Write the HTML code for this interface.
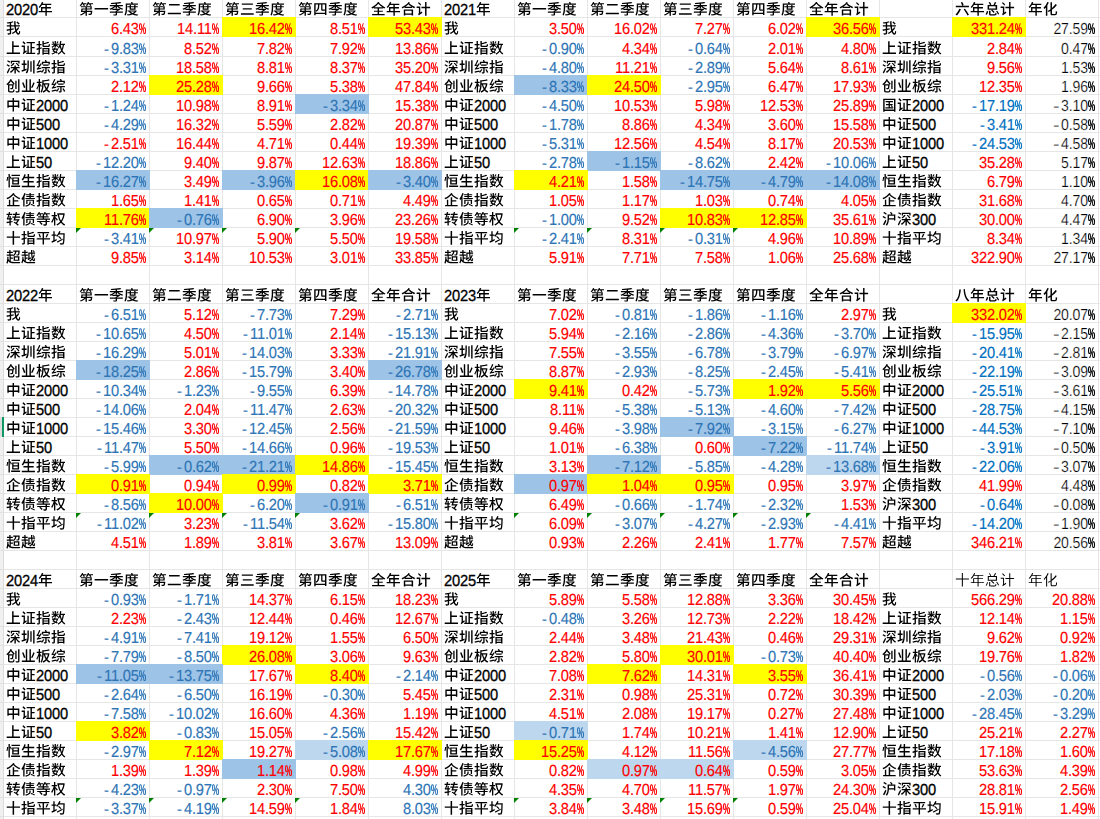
<!DOCTYPE html>
<html lang="zh"><head><meta charset="utf-8"><title>季度收益对比</title>
<style>
html,body{margin:0;padding:0;background:#fff}
body{width:1100px;height:819px;font-family:"Liberation Sans",sans-serif;color:#000}
#sheet{position:relative;width:1100px;height:819px;overflow:hidden;background:#fff}
table{position:absolute;left:0;top:-1px;width:1172px;border-collapse:separate;border-spacing:0;table-layout:fixed}
col{width:73px}col.h{width:4px}
td{box-sizing:border-box;height:19px;padding:0;border-right:1px solid #e6e6e6;border-bottom:1px solid #e6e6e6;font-size:14.67px;line-height:18px;white-space:nowrap;vertical-align:top;overflow:visible}
tr.x td{height:20px}
.d,.c,td b,td i{position:relative;top:2px}
tr.x .d,tr.x .c,tr.x b,tr.x i{top:3px}
th{padding:0;background:#f0f0f0;border-right:1px solid #dcdcdc;border-bottom:1px solid #e0e0e0}
td.l{padding-left:2.0px;text-align:left}
td.n{padding-right:3.17px;text-align:right;color:#ff0000}
td.b{color:#2e75b6}td.B{color:#0070c0}td.k{color:#000}
td.Y,td.L,td.P{position:relative;z-index:1}
td.Y{background:#ffff00;border-color:#ffff00;box-shadow:-1px -1px 0 0 #ffff00,0 -1px 0 0 #ffff00,-1px 0 0 0 #ffff00}
td.L{background:#9dc3e6;border-color:#9dc3e6;box-shadow:-1px -1px 0 0 #9dc3e6,0 -1px 0 0 #9dc3e6,-1px 0 0 0 #9dc3e6}
td.P{background:#bdd7ee;border-color:#bdd7ee;box-shadow:-1px -1px 0 0 #bdd7ee,0 -1px 0 0 #bdd7ee,-1px 0 0 0 #bdd7ee}
td.T{position:relative}
td.T::before{content:"";position:absolute;left:-1px;top:0;width:0;height:0;border-top:5.5px solid #008000;border-right:5.5px solid transparent;z-index:2}
/* Liberation digits: integer advances + hinted-height emulation */
.d{display:inline-block;line-height:0;text-rendering:geometricPrecision;letter-spacing:-0.157px;transform:scaleY(1.09);transform-origin:0 5px;-webkit-text-stroke:0.15px currentColor}
/* glyphs not available in Liberation are drawn from outlines; the text stays in the DOM */
.c,td b{font-size:0;line-height:0;font-weight:normal}
td.l .d{-webkit-text-stroke:.3px currentColor}
td.k .d{transform:scale(0.96,1.09);transform-origin:100% 5px;-webkit-text-stroke:0.2px #fff}
td.k i{transform:scaleX(1.35);transform-origin:0 0;-webkit-text-stroke:0.2px #fff}
td i{display:inline-block;width:7px;line-height:0;font-style:normal;text-align:left;text-rendering:geometricPrecision;-webkit-text-stroke:0.15px currentColor}
.c::after,td b::after{content:"";display:inline-block;height:16.5px;vertical-align:-3.0px;background:currentColor}
.c::after{width:15px}
td b::after{width:7.4px;margin-right:-0.4px}
#sel{position:absolute;left:2px;top:417px;width:2px;height:20px;background:#109864;z-index:3}
#selbg{position:absolute;left:0;top:418px;width:2px;height:18px;background:#dcdcdc;z-index:3}
.u4e00::after{clip-path:path("M0.62 6.42L0.62 7.94L14.11 7.94L14.11 6.42Z")}
.u4e09::after{clip-path:path("M1.78 1.93L1.78 3.35L12.91 3.35L12.91 1.93ZM2.76 6.69L2.76 8.1L11.75 8.1L11.75 6.69ZM0.94 11.74L0.94 13.15L13.7 13.15L13.7 11.74Z")}
.u4e0a::after{clip-path:path("M6.12 0.72L6.12 12.03L0.7 12.03L0.7 13.43L13.98 13.43L13.98 12.03L7.6 12.03L7.6 6.5L12.97 6.5L12.97 5.11L7.6 5.11L7.6 0.72Z")}
.u4e1a::after{clip-path:path("M12.4 3.8C11.85 5.51 10.84 7.66 10.06 9.03L11.21 9.61C12 8.22 12.97 6.17 13.66 4.41ZM1.09 4.14C1.82 5.86 2.66 8.16 2.99 9.51L4.37 9C3.99 7.66 3.11 5.45 2.36 3.76ZM8.46 0.69L8.46 12.02L6.22 12.02L6.22 0.69L4.8 0.69L4.8 12.02L0.82 12.02L0.82 13.41L13.88 13.41L13.88 12.02L9.89 12.02L9.89 0.69Z")}
.u4e2d::after{clip-path:path("M6.57 0.52L6.57 3.1L1.36 3.1L1.36 10.29L2.74 10.29L2.74 9.41L6.57 9.41L6.57 14.12L8.02 14.12L8.02 9.41L11.87 9.41L11.87 10.22L13.31 10.22L13.31 3.1L8.02 3.1L8.02 0.52ZM2.74 8.04L2.74 4.46L6.57 4.46L6.57 8.04ZM11.87 8.04L8.02 8.04L8.02 4.46L11.87 4.46Z")}
.u4e8c::after{clip-path:path("M2.05 2.59L2.05 4.1L12.65 4.1L12.65 2.59ZM0.82 11.2L0.82 12.78L13.88 12.78L13.88 11.2Z")}
.u4f01::after{clip-path:path("M2.89 7.15L2.89 12.46L1.13 12.46L1.13 13.72L13.66 13.72L13.66 12.46L8.17 12.46L8.17 9.1L12.31 9.1L12.31 7.85L8.17 7.85L8.17 4.63L6.72 4.63L6.72 12.46L4.24 12.46L4.24 7.15ZM7.22 0.39C5.75 2.62 3.07 4.51 0.4 5.58C0.75 5.9 1.14 6.39 1.35 6.75C3.56 5.74 5.72 4.23 7.35 2.4C9.32 4.58 11.3 5.76 13.45 6.75C13.63 6.34 14.01 5.86 14.35 5.57C12.13 4.68 10.02 3.54 8.14 1.44L8.46 0.99Z")}
.u503a::after{clip-path:path("M8.39 8.95L8.39 10.1C8.39 11.01 8.1 12.34 4.12 13.19C4.43 13.43 4.8 13.87 4.96 14.15C9.14 13.06 9.67 11.37 9.67 10.14L9.67 8.95ZM9.51 12.33C10.78 12.78 12.47 13.52 13.29 14.04L14 13.05C13.11 12.53 11.41 11.84 10.18 11.45ZM5.24 7.22L5.24 11.39L6.5 11.39L6.5 8.16L11.74 8.16L11.74 11.39L13.06 11.39L13.06 7.22ZM8.48 0.52L8.48 1.75L4.87 1.75L4.87 2.79L8.48 2.79L8.48 3.6L5.33 3.6L5.33 4.57L8.48 4.57L8.48 5.46L4.49 5.46L4.49 6.47L13.86 6.47L13.86 5.46L9.77 5.46L9.77 4.57L12.84 4.57L12.84 3.6L9.77 3.6L9.77 2.79L13.22 2.79L13.22 1.75L9.77 1.75L9.77 0.52ZM3.34 0.58C2.7 2.72 1.63 4.86 0.44 6.28C0.69 6.61 1.09 7.37 1.23 7.69C1.57 7.27 1.91 6.8 2.23 6.27L2.23 14.12L3.55 14.12L3.55 3.79C3.98 2.87 4.34 1.91 4.65 0.96Z")}
.u5168::after{clip-path:path("M7.14 0.36C5.66 2.68 2.99 4.73 0.31 5.89C0.67 6.2 1.07 6.68 1.28 7.03C1.82 6.77 2.35 6.47 2.88 6.15L2.88 7.12L6.6 7.12L6.6 9.14L3.01 9.14L3.01 10.36L6.6 10.36L6.6 12.5L1.11 12.5L1.11 13.75L13.64 13.75L13.64 12.5L8.07 12.5L8.07 10.36L11.82 10.36L11.82 9.14L8.07 9.14L8.07 7.12L11.88 7.12L11.88 6.17C12.4 6.49 12.91 6.8 13.45 7.11C13.64 6.69 14.05 6.21 14.39 5.92C12.01 4.76 9.9 3.34 8.11 1.33L8.38 0.94ZM3.3 5.87C4.8 4.89 6.19 3.69 7.33 2.34C8.63 3.78 9.96 4.89 11.44 5.87Z")}
.u516b::after{clip-path:path("M4.3 1.91C4.03 5.93 3.39 10.55 0.41 13.02C0.72 13.27 1.2 13.78 1.42 14.09C4.64 11.37 5.43 6.43 5.82 2.03ZM9.9 1.56L8.54 1.66C8.63 2.78 8.93 10.42 13.11 14.04C13.39 13.69 13.83 13.34 14.33 13.06C10.24 9.69 9.95 2.51 9.9 1.56Z")}
.u516d::after{clip-path:path("M0.78 4.32L0.78 5.76L13.94 5.76L13.94 4.32ZM4.4 7.27C3.46 9.36 1.97 11.65 0.57 13.08C0.97 13.31 1.66 13.77 1.98 14.03C3.3 12.46 4.87 10.01 5.96 7.75ZM8.66 7.78C9.98 9.75 11.72 12.39 12.5 13.94L13.97 13.15C13.09 11.59 11.28 9.03 9.98 7.15ZM5.82 1.05C6.31 2.03 6.92 3.36 7.17 4.14L8.71 3.56C8.41 2.79 7.76 1.52 7.28 0.56Z")}
.u521b::after{clip-path:path("M12.1 0.77L12.1 12.42C12.1 12.68 12 12.77 11.71 12.78C11.43 12.8 10.47 12.8 9.48 12.77C9.68 13.13 9.89 13.72 9.96 14.09C11.34 14.1 12.21 14.06 12.75 13.85C13.28 13.63 13.48 13.27 13.48 12.42L13.48 0.77ZM9.26 2.21L9.26 10.45L10.59 10.45L10.59 2.21ZM2.63 5.87L2.29 5.87C3.29 4.95 4.15 3.86 4.86 2.69C5.79 3.73 6.82 4.95 7.47 5.87ZM4.49 0.52C3.71 2.4 2.16 4.41 0.34 5.68C0.63 5.92 1.11 6.4 1.33 6.68C1.57 6.5 1.8 6.3 2.04 6.11L2.04 12.05C2.04 13.53 2.51 13.91 4.06 13.91C4.4 13.91 6.28 13.91 6.63 13.91C8.04 13.91 8.42 13.31 8.58 11.26C8.22 11.18 7.66 10.96 7.36 10.74C7.29 12.4 7.17 12.71 6.53 12.71C6.12 12.71 4.55 12.71 4.21 12.71C3.51 12.71 3.39 12.62 3.39 12.03L3.39 7.08L6.19 7.08C6.09 8.63 5.97 9.28 5.81 9.47C5.69 9.6 5.57 9.61 5.38 9.61C5.18 9.61 4.69 9.61 4.18 9.56C4.37 9.88 4.5 10.38 4.52 10.73C5.13 10.76 5.71 10.76 6.03 10.71C6.41 10.67 6.69 10.57 6.94 10.29C7.28 9.91 7.42 8.88 7.56 6.37L7.57 6.02L7.76 6.31L8.77 5.37C8.08 4.35 6.66 2.76 5.49 1.53L5.77 0.91Z")}
.u5316::after{clip-path:path("M12.57 2.54C11.6 4.02 10.34 5.37 8.96 6.53L8.96 0.75L7.48 0.75L7.48 7.68C6.51 8.37 5.52 8.95 4.56 9.41C4.93 9.67 5.37 10.16 5.59 10.45C6.21 10.14 6.85 9.78 7.48 9.38L7.48 11.48C7.48 13.34 7.94 13.87 9.56 13.87C9.9 13.87 11.62 13.87 11.97 13.87C13.63 13.87 14 12.86 14.17 10.07C13.76 9.97 13.16 9.67 12.79 9.39C12.69 11.87 12.59 12.49 11.87 12.49C11.49 12.49 10.06 12.49 9.74 12.49C9.08 12.49 8.96 12.34 8.96 11.51L8.96 8.37C10.8 7.02 12.56 5.33 13.91 3.45ZM4.4 0.49C3.54 2.68 2.07 4.82 0.53 6.18C0.81 6.5 1.26 7.24 1.44 7.57C1.92 7.11 2.41 6.55 2.88 5.95L2.88 14.13L4.33 14.13L4.33 3.82C4.89 2.9 5.38 1.91 5.79 0.93Z")}
.u5341::after{clip-path:path("M6.6 0.52L6.6 5.92L0.76 5.92L0.76 7.35L6.6 7.35L6.6 14.13L8.11 14.13L8.11 7.35L14.02 7.35L14.02 5.92L8.11 5.92L8.11 0.52Z")}
.u5408::after{clip-path:path("M7.53 0.46C6.01 2.75 3.27 4.64 0.51 5.71C0.89 6.06 1.29 6.59 1.53 6.97C2.24 6.65 2.96 6.27 3.65 5.84L3.65 6.56L11.05 6.56L11.05 5.59C11.78 6.03 12.54 6.43 13.32 6.8C13.53 6.37 13.92 5.84 14.29 5.54C12.1 4.67 10.08 3.54 8.27 1.75L8.76 1.09ZM4.49 5.29C5.57 4.54 6.57 3.69 7.44 2.75C8.46 3.78 9.49 4.6 10.55 5.29ZM2.8 8.1L2.8 14.1L4.22 14.1L4.22 13.37L10.62 13.37L10.62 14.04L12.1 14.04L12.1 8.1ZM4.22 12.08L4.22 9.35L10.62 9.35L10.62 12.08Z")}
.u56db::after{clip-path:path("M1.22 1.78L1.22 13.65L2.63 13.65L2.63 12.59L11.97 12.59L11.97 13.53L13.42 13.53L13.42 1.78ZM2.63 11.26L2.63 3.12L5.02 3.12C4.96 6.45 4.75 8.21 2.68 9.25C2.99 9.5 3.37 10.01 3.52 10.35C5.97 9.09 6.29 6.9 6.37 3.12L8.16 3.12L8.16 7.4C8.16 8.69 8.42 9.26 9.61 9.26C9.86 9.26 10.78 9.26 11.08 9.26C11.4 9.26 11.77 9.26 11.97 9.19L11.97 11.26ZM9.46 3.12L11.97 3.12L11.97 8.76L11.91 8.01C11.71 8.07 11.28 8.1 11.03 8.1C10.81 8.1 10.03 8.1 9.81 8.1C9.51 8.1 9.46 7.91 9.46 7.43Z")}
.u56fd::after{clip-path:path("M8.63 8.25C9.11 8.73 9.67 9.39 9.93 9.83L7.91 9.83L7.91 7.66L10.67 7.66L10.67 6.47L7.91 6.47L7.91 4.7L11 4.7L11 3.47L3.59 3.47L3.59 4.7L6.6 4.7L6.6 6.47L3.99 6.47L3.99 7.66L6.6 7.66L6.6 9.83L3.4 9.83L3.4 10.98L11.28 10.98L11.28 9.83L9.98 9.83L10.89 9.31C10.61 8.87 10 8.22 9.51 7.77ZM1.2 1.15L1.2 14.13L2.61 14.13L2.61 13.4L11.99 13.4L11.99 14.13L13.45 14.13L13.45 1.15ZM2.61 12.11L2.61 2.43L11.99 2.43L11.99 12.11Z")}
.u5733::after{clip-path:path("M9.32 1.69L9.32 12.2L10.64 12.2L10.64 1.69ZM12.16 0.87L12.16 13.94L13.57 13.94L13.57 0.87ZM6.45 0.96L6.45 5.98C6.45 8.57 6.28 11.1 4.69 13.19C5.09 13.35 5.71 13.74 6.01 13.97C7.64 11.68 7.82 8.79 7.82 5.99L7.82 0.96ZM0.47 10.86L0.92 12.28C2.3 11.76 4.06 11.05 5.71 10.38L5.44 9.1L3.89 9.69L3.89 5.43L5.6 5.43L5.6 4.07L3.89 4.07L3.89 0.69L2.49 0.69L2.49 4.07L0.72 4.07L0.72 5.43L2.49 5.43L2.49 10.19C1.73 10.45 1.03 10.68 0.47 10.86Z")}
.u5747::after{clip-path:path("M7.1 6.28C7.95 7 9.07 8.04 9.61 8.65L10.47 7.72C9.92 7.13 8.83 6.2 7.92 5.49ZM5.9 11.02L6.44 12.3C7.97 11.48 9.98 10.35 11.82 9.28L11.5 8.19C9.48 9.26 7.28 10.39 5.9 11.02ZM0.47 10.9L0.95 12.33C2.36 11.58 4.2 10.61 5.9 9.67L5.56 8.53L3.65 9.45L3.65 5.3L5.24 5.3L5.18 5.36C5.46 5.64 5.9 6.23 6.09 6.5C6.73 5.84 7.38 5.01 7.95 4.08L12.4 4.08C12.26 9.83 12.07 12.15 11.6 12.64C11.44 12.83 11.27 12.89 10.97 12.87C10.59 12.87 9.68 12.87 8.67 12.78C8.9 13.16 9.08 13.72 9.11 14.1C9.99 14.15 10.94 14.16 11.49 14.1C12.06 14.03 12.41 13.9 12.78 13.4C13.35 12.65 13.53 10.3 13.7 3.5C13.7 3.31 13.7 2.81 13.7 2.81L8.68 2.81C9.01 2.19 9.29 1.55 9.54 0.91L8.27 0.52C7.63 2.31 6.53 4.05 5.33 5.23L5.33 4L3.65 4L3.65 0.69L2.32 0.69L2.32 4L0.59 4L0.59 5.3L2.32 5.3L2.32 10.08C1.61 10.41 0.98 10.68 0.47 10.9Z")}
.u5b63::after{clip-path:path("M11.25 0.56C9.11 1.06 5.12 1.35 1.78 1.44C1.91 1.74 2.05 2.25 2.08 2.56C3.54 2.53 5.09 2.45 6.62 2.34L6.62 3.54L0.85 3.54L0.85 4.73L5.21 4.73C3.95 5.8 2.14 6.75 0.48 7.27C0.78 7.53 1.16 8.01 1.36 8.32C2.01 8.09 2.68 7.78 3.34 7.41L3.34 8.47L8.36 8.47C7.82 8.75 7.23 9 6.69 9.17L6.69 10.01L0.84 10.01L0.84 11.23L6.69 11.23L6.69 12.64C6.69 12.83 6.62 12.89 6.35 12.9C6.07 12.91 5.08 12.91 4.08 12.89C4.28 13.24 4.5 13.74 4.58 14.1C5.84 14.1 6.72 14.1 7.31 13.93C7.88 13.72 8.05 13.4 8.05 12.67L8.05 11.23L13.86 11.23L13.86 10.01L8.05 10.01L8.05 9.75C9.2 9.28 10.37 8.66 11.24 8.03L10.39 7.28L10.09 7.35L3.46 7.35C4.64 6.69 5.77 5.87 6.62 4.96L6.62 6.99L7.98 6.99L7.98 4.9C9.33 6.34 11.4 7.6 13.29 8.26C13.5 7.93 13.89 7.43 14.17 7.16C12.5 6.68 10.68 5.79 9.45 4.73L13.85 4.73L13.85 3.54L7.98 3.54L7.98 2.22C9.61 2.06 11.15 1.84 12.38 1.55Z")}
.u5e73::after{clip-path:path("M2.46 3.82C2.99 4.86 3.51 6.23 3.7 7.08L5.03 6.64C4.84 5.79 4.27 4.46 3.73 3.45ZM10.91 3.39C10.58 4.41 9.96 5.83 9.45 6.71L10.67 7.09C11.19 6.25 11.85 4.95 12.4 3.79ZM0.72 7.69L0.72 9.09L6.6 9.09L6.6 14.12L8.04 14.12L8.04 9.09L13.98 9.09L13.98 7.69L8.04 7.69L8.04 2.85L13.13 2.85L13.13 1.47L1.5 1.47L1.5 2.85L6.6 2.85L6.6 7.69Z")}
.u5e74::after{clip-path:path("M0.65 9.51L0.65 10.86L7.39 10.86L7.39 14.13L8.82 14.13L8.82 10.86L14.04 10.86L14.04 9.51L8.82 9.51L8.82 6.9L12.95 6.9L12.95 5.61L8.82 5.61L8.82 3.56L13.29 3.56L13.29 2.22L4.71 2.22C4.93 1.77 5.12 1.3 5.3 0.83L3.89 0.46C3.2 2.41 2.02 4.3 0.66 5.49C1 5.68 1.58 6.14 1.85 6.39C2.61 5.64 3.34 4.66 4 3.56L7.39 3.56L7.39 5.61L3.04 5.61L3.04 9.51ZM4.42 9.51L4.42 6.9L7.39 6.9L7.39 9.51Z")}
.u5ea6::after{clip-path:path("M5.66 3.56L5.66 4.7L3.46 4.7L3.46 5.81L5.66 5.81L5.66 8.19L11.53 8.19L11.53 5.81L13.79 5.81L13.79 4.7L11.53 4.7L11.53 3.56L10.17 3.56L10.17 4.7L6.98 4.7L6.98 3.56ZM10.17 5.81L10.17 7.12L6.98 7.12L6.98 5.81ZM10.84 10.08C10.24 10.71 9.45 11.23 8.51 11.62C7.6 11.21 6.82 10.7 6.26 10.08ZM3.62 8.97L3.62 10.08L5.4 10.08L4.84 10.3C5.41 11.04 6.13 11.67 6.97 12.18C5.72 12.53 4.33 12.75 2.92 12.87C3.14 13.18 3.39 13.71 3.49 14.04C5.25 13.84 6.95 13.5 8.45 12.94C9.87 13.53 11.53 13.93 13.36 14.13C13.54 13.78 13.88 13.22 14.17 12.93C12.67 12.8 11.27 12.56 10.05 12.2C11.27 11.51 12.25 10.58 12.91 9.36L12.04 8.91L11.79 8.97ZM6.88 0.75C7.06 1.09 7.22 1.52 7.36 1.9L1.76 1.9L1.76 5.86C1.76 8.07 1.66 11.27 0.45 13.5C0.81 13.62 1.44 13.91 1.72 14.12C2.95 11.77 3.14 8.25 3.14 5.84L3.14 3.19L13.95 3.19L13.95 1.9L8.93 1.9C8.76 1.43 8.51 0.87 8.27 0.43Z")}
.u603b::after{clip-path:path("M11.03 9.78C11.88 10.79 12.73 12.17 13.03 13.09L14.17 12.4C13.86 11.46 12.97 10.14 12.1 9.16ZM4.03 9.31L4.03 12.2C4.03 13.59 4.52 13.99 6.45 13.99C6.85 13.99 9.15 13.99 9.56 13.99C11.05 13.99 11.49 13.55 11.68 11.8C11.27 11.73 10.68 11.51 10.36 11.3C10.28 12.53 10.15 12.72 9.45 12.72C8.9 12.72 6.98 12.72 6.57 12.72C5.66 12.72 5.5 12.65 5.5 12.18L5.5 9.31ZM1.86 9.53C1.61 10.68 1.14 11.99 0.56 12.74L1.85 13.34C2.48 12.43 2.95 11.01 3.18 9.76ZM4.09 4.73L10.59 4.73L10.59 6.99L4.09 6.99ZM2.61 3.42L2.61 8.31L7.06 8.31L6.09 9.07C7.01 9.72 8.1 10.73 8.63 11.43L9.65 10.54C9.11 9.88 8.04 8.92 7.1 8.31L12.16 8.31L12.16 3.42L9.92 3.42C10.39 2.7 10.87 1.88 11.31 1.11L9.87 0.52C9.54 1.4 8.93 2.56 8.39 3.42L5.52 3.42L6.37 3.01C6.12 2.29 5.46 1.3 4.83 0.56L3.64 1.11C4.2 1.81 4.75 2.75 5.02 3.42Z")}
.u6052::after{clip-path:path("M1.1 3.38C1 4.58 0.73 6.21 0.37 7.19L1.48 7.57C1.85 6.47 2.11 4.76 2.17 3.53ZM5.53 1.25L5.53 2.51L13.92 2.51L13.92 1.25ZM5.11 12.12L5.11 13.41L14.11 13.41L14.11 12.12ZM7.53 8L11.69 8L11.69 9.78L7.53 9.78ZM7.53 5.12L11.69 5.12L11.69 6.87L7.53 6.87ZM6.19 3.91L6.19 10.99L13.09 10.99L13.09 3.91ZM2.49 0.52L2.49 14.12L3.84 14.12L3.84 3.42C4.21 4.26 4.64 5.34 4.81 6.01L5.85 5.49C5.66 4.83 5.19 3.73 4.77 2.9L3.84 3.31L3.84 0.52Z")}
.u6211::after{clip-path:path("M10.33 1.63C11.16 2.37 12.13 3.42 12.54 4.11L13.67 3.32C13.2 2.63 12.21 1.62 11.38 0.91ZM12.09 6.69C11.63 7.53 11.06 8.34 10.4 9.09C10.18 8.19 10 7.19 9.86 6.09L13.92 6.09L13.92 4.79L9.73 4.79C9.61 3.47 9.55 2.07 9.56 0.64L8.11 0.64C8.13 2.04 8.19 3.45 8.3 4.79L5.16 4.79L5.16 2.45C6.04 2.28 6.88 2.06 7.61 1.82L6.65 0.65C5.21 1.16 2.86 1.66 0.79 1.96C0.97 2.26 1.14 2.78 1.2 3.12C2.02 3.01 2.9 2.88 3.77 2.73L3.77 4.79L0.78 4.79L0.78 6.09L3.77 6.09L3.77 8.43C2.54 8.66 1.41 8.87 0.53 9.01L0.91 10.42L3.77 9.8L3.77 12.43C3.77 12.67 3.68 12.74 3.42 12.75C3.15 12.77 2.29 12.77 1.41 12.74C1.6 13.12 1.85 13.75 1.91 14.13C3.11 14.15 3.95 14.1 4.46 13.87C4.99 13.65 5.16 13.25 5.16 12.43L5.16 9.5L7.75 8.92L7.64 7.66L5.16 8.15L5.16 6.09L8.44 6.09C8.61 7.62 8.88 9.04 9.21 10.24C8.19 11.15 7.01 11.93 5.81 12.5C6.15 12.81 6.54 13.28 6.75 13.62C7.78 13.08 8.77 12.4 9.68 11.62C10.34 13.21 11.21 14.19 12.34 14.19C13.54 14.19 14.01 13.5 14.24 10.99C13.88 10.85 13.39 10.54 13.09 10.22C13.01 12.03 12.84 12.77 12.47 12.77C11.87 12.77 11.3 11.95 10.83 10.57C11.81 9.57 12.66 8.43 13.32 7.21Z")}
.u6307::after{clip-path:path("M12.16 1.28C11.13 1.77 9.42 2.26 7.79 2.63L7.79 0.55L6.41 0.55L6.41 4.64C6.41 6.11 6.91 6.5 8.76 6.5C9.15 6.5 11.53 6.5 11.94 6.5C13.5 6.5 13.92 5.99 14.1 3.97C13.73 3.89 13.14 3.69 12.84 3.47C12.75 4.99 12.62 5.24 11.85 5.24C11.3 5.24 9.3 5.24 8.88 5.24C7.97 5.24 7.79 5.17 7.79 4.64L7.79 3.76C9.64 3.41 11.72 2.9 13.22 2.29ZM7.72 11.05L12.06 11.05L12.06 12.34L7.72 12.34ZM7.72 9.95L7.72 8.72L12.06 8.72L12.06 9.95ZM6.41 7.56L6.41 14.13L7.72 14.13L7.72 13.46L12.06 13.46L12.06 14.06L13.44 14.06L13.44 7.56ZM2.55 0.52L2.55 3.39L0.6 3.39L0.6 4.68L2.55 4.68L2.55 7.62C1.75 7.84 1 8.01 0.4 8.16L0.76 9.5L2.55 9L2.55 12.58C2.55 12.8 2.48 12.86 2.27 12.86C2.1 12.87 1.48 12.87 0.87 12.84C1.03 13.21 1.22 13.78 1.26 14.12C2.26 14.12 2.9 14.09 3.34 13.87C3.77 13.66 3.92 13.3 3.92 12.58L3.92 8.6L5.78 8.06L5.6 6.78L3.92 7.25L3.92 4.68L5.55 4.68L5.55 3.39L3.92 3.39L3.92 0.52Z")}
.u6570::after{clip-path:path("M6.38 0.75C6.13 1.31 5.68 2.15 5.33 2.68L6.22 3.09C6.62 2.62 7.09 1.9 7.54 1.24ZM1.16 1.24C1.54 1.84 1.91 2.65 2.02 3.16L3.08 2.69C2.95 2.18 2.55 1.4 2.16 0.83ZM5.78 9.23C5.47 9.88 5.06 10.45 4.58 10.93C4.09 10.68 3.59 10.45 3.11 10.23L3.67 9.23ZM1.42 10.68C2.11 10.96 2.89 11.33 3.61 11.71C2.71 12.31 1.66 12.74 0.51 12.99C0.75 13.25 1.01 13.74 1.14 14.04C2.48 13.68 3.71 13.13 4.74 12.33C5.21 12.61 5.62 12.87 5.94 13.12L6.78 12.21C6.45 11.99 6.06 11.76 5.63 11.51C6.4 10.66 6.98 9.61 7.35 8.32L6.6 8.04L6.38 8.09L4.22 8.09L4.5 7.41L3.29 7.18C3.17 7.47 3.05 7.78 2.9 8.09L0.97 8.09L0.97 9.23L2.32 9.23C2.02 9.78 1.7 10.27 1.42 10.68ZM3.61 0.5L3.61 3.19L0.69 3.19L0.69 4.3L3.18 4.3C2.46 5.15 1.42 5.95 0.47 6.34C0.73 6.61 1.04 7.08 1.2 7.38C2.02 6.93 2.9 6.23 3.61 5.45L3.61 7L4.9 7L4.9 5.17C5.55 5.65 6.29 6.25 6.65 6.59L7.39 5.61C7.09 5.4 6.01 4.73 5.28 4.3L7.8 4.3L7.8 3.19L4.9 3.19L4.9 0.5ZM9.11 0.61C8.77 3.2 8.11 5.68 6.95 7.22C7.25 7.41 7.78 7.87 7.98 8.09C8.3 7.6 8.61 7.06 8.88 6.46C9.18 7.75 9.56 8.94 10.06 10.01C9.26 11.33 8.14 12.34 6.6 13.06C6.85 13.33 7.22 13.9 7.35 14.19C8.8 13.43 9.9 12.47 10.74 11.27C11.44 12.42 12.32 13.34 13.41 14C13.61 13.66 14.01 13.16 14.32 12.91C13.14 12.28 12.22 11.27 11.49 10.01C12.23 8.53 12.7 6.74 13.01 4.58L13.98 4.58L13.98 3.31L9.9 3.31C10.09 2.5 10.25 1.65 10.39 0.78ZM11.72 4.58C11.52 6.09 11.22 7.4 10.78 8.54C10.3 7.34 9.93 6.01 9.68 4.58Z")}
.u6743::after{clip-path:path("M12.26 3.16C11.82 5.49 11.05 7.47 9.99 9.06C9.04 7.47 8.45 5.58 8.01 3.16ZM12.66 1.81L12.44 1.82L6.28 1.82L6.28 3.16L6.85 3.16L6.7 3.19C7.22 6.14 7.91 8.38 9.1 10.23C8.04 11.46 6.78 12.37 5.38 12.96C5.69 13.22 6.06 13.77 6.25 14.1C7.63 13.44 8.88 12.55 9.93 11.37C10.8 12.42 11.88 13.34 13.23 14.21C13.42 13.79 13.85 13.31 14.23 13.05C12.81 12.21 11.71 11.32 10.84 10.24C12.29 8.21 13.31 5.51 13.78 2.03L12.89 1.77ZM2.98 0.52L2.98 3.53L0.63 3.53L0.63 4.83L2.67 4.83C2.17 6.77 1.22 8.98 0.22 10.17C0.47 10.54 0.84 11.17 1 11.59C1.75 10.61 2.45 9.06 2.98 7.41L2.98 14.12L4.33 14.12L4.33 7.03C4.93 7.79 5.66 8.78 5.99 9.32L6.81 8.04C6.45 7.66 4.83 5.92 4.33 5.48L4.33 4.83L6.19 4.83L6.19 3.53L4.33 3.53L4.33 0.52Z")}
.u677f::after{clip-path:path("M2.71 0.52L2.71 3.31L0.78 3.31L0.78 4.6L2.63 4.6C2.19 6.53 1.32 8.76 0.4 9.92C0.62 10.26 0.92 10.9 1.06 11.29C1.66 10.36 2.26 8.9 2.71 7.34L2.71 14.12L4 14.12L4 6.64C4.37 7.35 4.74 8.18 4.91 8.66L5.74 7.6C5.49 7.16 4.39 5.48 4 4.98L4 4.6L5.68 4.6L5.68 3.31L4 3.31L4 0.52ZM12.84 0.72C11.33 1.33 8.57 1.66 6.23 1.79L6.23 5.33C6.23 7.69 6.09 11.05 4.45 13.4C4.75 13.55 5.34 13.96 5.59 14.19C7.16 11.92 7.53 8.48 7.58 5.99L7.83 5.99C8.24 7.79 8.82 9.39 9.62 10.74C8.76 11.76 7.7 12.52 6.53 13C6.82 13.27 7.19 13.79 7.36 14.15C8.52 13.59 9.56 12.86 10.45 11.9C11.22 12.87 12.18 13.63 13.34 14.18C13.53 13.79 13.95 13.25 14.26 12.99C13.07 12.52 12.1 11.77 11.33 10.8C12.35 9.31 13.1 7.38 13.48 4.95L12.62 4.68L12.38 4.73L7.58 4.73L7.58 2.91C9.76 2.78 12.19 2.45 13.79 1.82ZM11.94 5.99C11.62 7.37 11.12 8.57 10.47 9.58C9.86 8.53 9.4 7.31 9.07 5.99Z")}
.u6caa::after{clip-path:path("M1.32 1.62C2.2 2.1 3.4 2.84 4 3.31L4.81 2.18C4.2 1.74 2.96 1.06 2.11 0.62ZM0.5 5.59C1.39 6.06 2.61 6.77 3.21 7.19L4 6.05C3.37 5.64 2.13 4.99 1.25 4.57ZM0.98 13.03L2.23 13.85C2.96 12.47 3.8 10.71 4.43 9.16L3.33 8.34C2.61 10.01 1.66 11.89 0.98 13.03ZM7.88 1.03C8.42 1.63 9.04 2.45 9.34 3.04L5.57 3.04L5.57 6.89C5.57 8.85 5.4 11.39 3.8 13.19C4.11 13.37 4.69 13.88 4.9 14.18C6.37 12.56 6.82 10.14 6.94 8.1L11.97 8.1L11.97 9.06L13.32 9.06L13.32 3.04L9.62 3.04L10.62 2.53C10.31 1.96 9.67 1.12 9.05 0.49ZM11.97 6.81L6.97 6.81L6.97 4.35L11.97 4.35Z")}
.u6df1::after{clip-path:path("M4.78 1.27L4.78 4.07L6 4.07L6 2.45L12.29 2.45L12.29 4.01L13.58 4.01L13.58 1.27ZM7.32 3.28C6.7 4.33 5.65 5.37 4.59 6.02C4.89 6.25 5.35 6.74 5.57 6.97C6.66 6.2 7.85 4.93 8.57 3.69ZM9.64 3.83C10.65 4.76 11.85 6.09 12.38 6.94L13.44 6.18C12.88 5.33 11.65 4.05 10.62 3.17ZM1.13 1.72C1.94 2.15 3.02 2.81 3.55 3.25L4.28 2.06C3.73 1.65 2.63 1.03 1.83 0.67ZM0.48 5.7C1.36 6.14 2.52 6.83 3.1 7.31L3.78 6.15C3.18 5.7 2.01 5.05 1.16 4.67ZM0.78 12.93L1.83 13.91C2.57 12.52 3.4 10.77 4.08 9.23L3.17 8.29C2.42 9.97 1.45 11.83 0.78 12.93ZM8.44 6.08L8.44 7.62L4.72 7.62L4.72 8.87L7.64 8.87C6.78 10.35 5.38 11.65 3.87 12.34C4.18 12.59 4.59 13.06 4.8 13.4C6.22 12.64 7.51 11.32 8.44 9.79L8.44 14.03L9.83 14.03L9.83 9.79C10.69 11.24 11.88 12.56 13.1 13.34C13.32 12.99 13.76 12.5 14.07 12.25C12.76 11.55 11.44 10.26 10.62 8.87L13.61 8.87L13.61 7.62L9.83 7.62L9.83 6.08Z")}
.u751f::after{clip-path:path("M3.3 0.72C2.77 2.79 1.82 4.82 0.63 6.11C0.98 6.28 1.61 6.69 1.89 6.93C2.41 6.3 2.9 5.52 3.34 4.64L6.65 4.64L6.65 7.59L2.42 7.59L2.42 8.92L6.65 8.92L6.65 12.33L0.78 12.33L0.78 13.68L13.95 13.68L13.95 12.33L8.08 12.33L8.08 8.92L12.69 8.92L12.69 7.59L8.08 7.59L8.08 4.64L13.23 4.64L13.23 3.29L8.08 3.29L8.08 0.52L6.65 0.52L6.65 3.29L3.96 3.29C4.25 2.57 4.52 1.81 4.74 1.05Z")}
.u7b2c::after{clip-path:path("M2.42 6.93C2.3 8.06 2.1 9.47 1.88 10.41L5.47 10.41C4.27 11.54 2.54 12.5 0.89 13.02C1.19 13.28 1.58 13.78 1.78 14.12C3.46 13.49 5.25 12.33 6.53 10.99L6.53 14.13L7.91 14.13L7.91 10.41L11.84 10.41C11.71 11.51 11.57 12.01 11.4 12.18C11.27 12.3 11.12 12.31 10.87 12.31C10.61 12.31 9.96 12.31 9.27 12.24C9.49 12.58 9.65 13.11 9.67 13.5C10.43 13.55 11.13 13.53 11.52 13.5C11.96 13.47 12.26 13.37 12.54 13.08C12.92 12.69 13.11 11.77 13.29 9.76C13.31 9.58 13.32 9.23 13.32 9.23L7.91 9.23L7.91 8.09L12.73 8.09L12.73 4.63L1.89 4.63L1.89 5.79L6.53 5.79L6.53 6.93ZM3.61 8.09L6.53 8.09L6.53 9.23L3.45 9.23ZM7.91 5.79L11.37 5.79L11.37 6.93L7.91 6.93ZM3.01 0.43C2.51 1.79 1.63 3.13 0.6 4C0.94 4.14 1.51 4.45 1.76 4.66C2.29 4.16 2.8 3.5 3.27 2.76L3.92 2.76C4.24 3.35 4.53 4.04 4.67 4.49L5.88 4.05C5.78 3.7 5.56 3.22 5.31 2.76L7.48 2.76L7.48 1.72L3.86 1.72C4 1.4 4.15 1.08 4.28 0.75ZM8.79 0.43C8.41 1.75 7.69 3.06 6.81 3.88C7.14 4.04 7.73 4.38 8.01 4.58C8.46 4.1 8.9 3.47 9.29 2.75L10.11 2.75C10.56 3.32 11 4.02 11.21 4.51L12.41 4C12.25 3.64 11.96 3.19 11.62 2.75L14.01 2.75L14.01 1.72L9.77 1.72C9.92 1.4 10.03 1.08 10.14 0.74Z")}
.u7b49::after{clip-path:path("M3.21 11.2C4.12 11.83 5.13 12.77 5.59 13.44L6.66 12.56C6.22 11.95 5.3 11.15 4.46 10.58L9.55 10.58L9.55 12.58C9.55 12.78 9.49 12.83 9.23 12.84C8.98 12.86 8.1 12.86 7.22 12.83C7.41 13.18 7.64 13.74 7.73 14.13C8.89 14.13 9.71 14.1 10.25 13.91C10.83 13.71 10.99 13.34 10.99 12.61L10.99 10.58L13.63 10.58L13.63 9.38L10.99 9.38L10.99 8.28L14.04 8.28L14.04 7.08L8.04 7.08L8.04 5.98L12.66 5.98L12.66 4.82L8.04 4.82L8.04 3.94L7.95 3.94C8.24 3.61 8.54 3.23 8.8 2.82L9.59 2.82C10.02 3.38 10.43 4.04 10.59 4.49L11.78 4C11.65 3.66 11.37 3.23 11.08 2.82L13.92 2.82L13.92 1.68L9.45 1.68C9.59 1.37 9.73 1.06 9.84 0.75L8.51 0.43C8.22 1.27 7.75 2.1 7.17 2.78L7.17 1.68L3.59 1.68C3.74 1.38 3.87 1.09 4 0.78L2.67 0.43C2.19 1.69 1.33 2.98 0.38 3.8C0.72 3.98 1.28 4.36 1.54 4.58C2.01 4.11 2.49 3.5 2.93 2.82L3.33 2.82C3.61 3.38 3.89 4.02 3.98 4.45L5.19 3.97C5.11 3.66 4.91 3.23 4.71 2.82L7.13 2.82C6.89 3.1 6.65 3.35 6.38 3.57L6.95 3.94L6.6 3.94L6.6 4.82L2.14 4.82L2.14 5.98L6.6 5.98L6.6 7.08L0.67 7.08L0.67 8.28L9.55 8.28L9.55 9.38L1.17 9.38L1.17 10.58L4.02 10.58Z")}
.u7efc::after{clip-path:path("M7.14 4.95L7.14 6.15L12.57 6.15L12.57 4.95ZM11.33 10.13C11.99 11.1 12.73 12.4 13.04 13.21L14.3 12.64C13.97 11.83 13.17 10.57 12.51 9.63ZM5.72 7.62L5.72 8.84L9.26 8.84L9.26 12.65C9.26 12.8 9.2 12.84 9.02 12.86C8.85 12.86 8.24 12.86 7.64 12.84C7.82 13.21 7.98 13.72 8.04 14.06C8.98 14.07 9.61 14.06 10.05 13.87C10.5 13.66 10.61 13.33 10.61 12.68L10.61 8.84L13.92 8.84L13.92 7.62ZM8.74 0.75C8.98 1.21 9.23 1.78 9.4 2.28L5.87 2.28L5.87 4.89L7.19 4.89L7.19 3.47L12.5 3.47L12.5 4.89L13.86 4.89L13.86 2.28L10.93 2.28C10.75 1.74 10.42 0.99 10.08 0.42ZM0.59 12.02L0.84 13.34L5.35 12.15L5 12.52C5.31 12.71 5.87 13.11 6.12 13.33C6.87 12.49 7.78 11.2 8.41 10.05L7.13 9.64C6.7 10.45 6.09 11.32 5.47 12.02L5.35 10.95C3.58 11.37 1.78 11.79 0.59 12.02ZM0.88 6.75C1.1 6.65 1.45 6.56 3.08 6.36C2.49 7.22 1.97 7.91 1.7 8.19C1.26 8.72 0.92 9.07 0.59 9.14C0.73 9.47 0.94 10.07 1 10.3C1.31 10.13 1.83 9.97 5.27 9.29C5.24 9 5.25 8.48 5.3 8.13L2.82 8.57C3.87 7.31 4.9 5.8 5.77 4.29L4.69 3.63C4.43 4.16 4.14 4.68 3.83 5.2L2.14 5.36C2.98 4.11 3.8 2.57 4.4 1.09L3.17 0.52C2.61 2.26 1.61 4.16 1.29 4.64C0.98 5.12 0.73 5.46 0.45 5.52C0.62 5.86 0.82 6.49 0.88 6.75Z")}
.u8ba1::after{clip-path:path("M1.88 1.62C2.7 2.31 3.74 3.29 4.24 3.92L5.16 2.91C4.67 2.29 3.58 1.37 2.76 0.72ZM0.63 5.08L0.63 6.46L2.88 6.46L2.88 11.36C2.88 12.01 2.42 12.46 2.11 12.67C2.35 12.96 2.7 13.57 2.82 13.94C3.08 13.62 3.55 13.25 6.4 11.21C6.25 10.93 6.04 10.33 5.96 9.95L4.28 11.11L4.28 5.08ZM9.07 0.56L9.07 5.27L5.43 5.27L5.43 6.71L9.07 6.71L9.07 14.13L10.53 14.13L10.53 6.71L14.13 6.71L14.13 5.27L10.53 5.27L10.53 0.56Z")}
.u8bc1::after{clip-path:path("M1.36 1.68C2.16 2.37 3.18 3.34 3.65 3.98L4.61 3.01C4.12 2.4 3.07 1.47 2.27 0.83ZM5.19 12.27L5.19 13.56L14.16 13.56L14.16 12.27L10.9 12.27L10.9 7.75L13.58 7.75L13.58 6.46L10.9 6.46L10.9 2.85L13.86 2.85L13.86 1.55L5.63 1.55L5.63 2.85L9.48 2.85L9.48 12.27L7.75 12.27L7.75 5.37L6.37 5.37L6.37 12.27ZM0.66 5.08L0.66 6.42L2.58 6.42L2.58 11.12C2.58 11.96 2.04 12.59 1.72 12.87C1.97 13.06 2.41 13.52 2.57 13.79C2.8 13.46 3.24 13.11 5.82 10.98C5.66 10.71 5.4 10.14 5.28 9.78L3.93 10.85L3.93 5.08Z")}
.u8d85::after{clip-path:path("M8.96 7.9L11.99 7.9L11.99 10.22L8.96 10.22ZM7.66 6.77L7.66 11.34L13.36 11.34L13.36 6.77ZM1.29 7.15C1.26 9.7 1.13 12.05 0.32 13.52C0.63 13.65 1.22 13.97 1.44 14.15C1.8 13.41 2.05 12.52 2.22 11.51C3.33 13.34 5.09 13.77 8.05 13.77L13.75 13.77C13.83 13.34 14.08 12.71 14.3 12.39C13.2 12.45 8.95 12.45 8.04 12.43C6.69 12.43 5.6 12.34 4.75 12.02L4.75 9.32L6.91 9.32L6.91 8.1L4.75 8.1L4.75 6.23L7.07 6.23L7.07 5.98C7.32 6.17 7.6 6.4 7.75 6.55C9.21 5.65 10.08 4.32 10.4 2.28L12.34 2.28C12.23 3.92 12.13 4.58 11.96 4.79C11.85 4.9 11.72 4.93 11.52 4.92C11.3 4.92 10.78 4.92 10.21 4.88C10.4 5.18 10.53 5.7 10.56 6.05C11.21 6.08 11.84 6.08 12.18 6.03C12.57 5.99 12.85 5.89 13.1 5.61C13.44 5.21 13.57 4.17 13.69 1.6C13.7 1.44 13.7 1.11 13.7 1.11L7.23 1.11L7.23 2.28L9.08 2.28C8.85 3.76 8.23 4.82 7.07 5.51L7.07 4.99L4.56 4.99L4.56 3.38L6.79 3.38L6.79 2.16L4.56 2.16L4.56 0.52L3.29 0.52L3.29 2.16L1.03 2.16L1.03 3.38L3.29 3.38L3.29 4.99L0.72 4.99L0.72 6.23L3.52 6.23L3.52 11.23C3.07 10.77 2.71 10.14 2.45 9.31C2.48 8.63 2.51 7.94 2.52 7.24Z")}
.u8d8a::after{clip-path:path("M11.56 1.12C12.01 1.68 12.6 2.45 12.89 2.92L13.88 2.35C13.58 1.91 12.98 1.18 12.51 0.64ZM1.32 7.19C1.38 9.16 1.29 11.54 0.29 13.27C0.59 13.4 1.03 13.81 1.22 14.1C1.73 13.25 2.04 12.27 2.23 11.24C3.42 13.3 5.3 13.77 8.38 13.77L13.75 13.77C13.83 13.34 14.08 12.71 14.3 12.39C13.26 12.43 9.21 12.43 8.38 12.43C6.91 12.43 5.74 12.33 4.81 11.93L4.81 9.34L6.7 9.34L6.7 8.12L4.81 8.12L4.81 6.28L6.95 6.28L6.95 5.05L4.56 5.05L4.56 3.44L6.69 3.44L6.69 2.22L4.56 2.22L4.56 0.52L3.29 0.52L3.29 2.22L1.11 2.22L1.11 3.44L3.29 3.44L3.29 5.05L0.6 5.05L0.6 6.28L3.56 6.28L3.56 11.07C3.11 10.6 2.74 9.94 2.48 9.09C2.51 8.45 2.51 7.84 2.49 7.25ZM7.2 10.85C7.42 10.58 7.83 10.32 10.27 8.87C10.15 8.63 10 8.13 9.95 7.79L8.55 8.57L8.55 4.14L10.14 4.14C10.27 6.01 10.47 7.69 10.78 9C10.06 9.95 9.2 10.73 8.23 11.24C8.49 11.48 8.86 11.93 9.07 12.23C9.86 11.74 10.59 11.11 11.22 10.36C11.62 11.27 12.1 11.8 12.73 11.8C13.64 11.81 14 11.23 14.19 9.26C13.89 9.14 13.5 8.88 13.25 8.62C13.2 9.97 13.09 10.58 12.87 10.58C12.57 10.58 12.29 10.1 12.06 9.25C12.84 8.07 13.45 6.71 13.89 5.21L12.81 4.93C12.54 5.86 12.16 6.75 11.71 7.57C11.56 6.61 11.43 5.43 11.35 4.14L14.1 4.14L14.1 2.97L11.3 2.97C11.27 2.18 11.27 1.35 11.27 0.52L10 0.52C10.02 1.35 10.03 2.18 10.08 2.97L7.31 2.97L7.31 8.56C7.31 9.14 6.91 9.48 6.63 9.63C6.85 9.92 7.11 10.51 7.2 10.85Z")}
.u8f6c::after{clip-path:path("M1.13 8.18C1.26 8.04 1.75 7.96 2.23 7.96L3.45 7.96L3.45 9.89L0.51 10.33L0.79 11.68L3.45 11.18L3.45 14.09L4.78 14.09L4.78 10.93L6.62 10.6L6.56 9.39L4.78 9.67L4.78 7.96L6.1 7.96L6.1 6.71L4.78 6.71L4.78 4.54L3.45 4.54L3.45 6.71L2.24 6.71C2.68 5.74 3.12 4.61 3.51 3.44L6.16 3.44L6.16 2.16L3.87 2.16C4 1.69 4.12 1.22 4.22 0.77L2.86 0.52C2.79 1.06 2.68 1.62 2.55 2.16L0.6 2.16L0.6 3.44L2.23 3.44C1.92 4.57 1.6 5.48 1.47 5.81C1.2 6.45 0.98 6.9 0.72 6.97C0.87 7.31 1.07 7.91 1.13 8.18ZM6.26 4.92L6.26 6.21L8.24 6.21C7.94 7.25 7.64 8.21 7.36 8.97L11.47 8.97C11 9.61 10.46 10.35 9.93 11.04C9.45 10.73 8.95 10.44 8.48 10.17L7.6 11.07C9.12 11.95 10.94 13.31 11.84 14.18L12.75 13.09C12.31 12.69 11.69 12.23 10.99 11.74C11.93 10.52 12.94 9.17 13.69 8.07L12.7 7.59L12.48 7.68L9.24 7.68L9.67 6.21L14.11 6.21L14.11 4.92L10.03 4.92L10.43 3.44L13.6 3.44L13.6 2.16L10.77 2.16L11.13 0.69L9.76 0.53L9.36 2.16L6.81 2.16L6.81 3.44L9.02 3.44L8.63 4.92Z")}
.t .u5341::after{clip-path:path("M6.84 0.62L6.84 6.12L0.84 6.12L0.84 7.12L6.84 7.12L6.84 14.04L7.88 14.04L7.88 7.12L13.95 7.12L13.95 6.12L7.88 6.12L7.88 0.62Z")}
.t .u5e74::after{clip-path:path("M0.72 9.67L0.72 10.61L7.57 10.61L7.57 14.06L8.57 14.06L8.57 10.61L13.97 10.61L13.97 9.67L8.57 9.67L8.57 6.62L12.97 6.62L12.97 5.7L8.57 5.7L8.57 3.35L13.31 3.35L13.31 2.4L4.43 2.4C4.69 1.88 4.93 1.35 5.13 0.81L4.14 0.55C3.42 2.56 2.19 4.46 0.76 5.68C1.03 5.83 1.44 6.15 1.63 6.31C2.45 5.54 3.23 4.51 3.92 3.35L7.57 3.35L7.57 5.7L3.15 5.7L3.15 9.67ZM4.14 9.67L4.14 6.62L7.57 6.62L7.57 9.67Z")}
.t .u603b::after{clip-path:path("M11.16 9.76C12.01 10.76 12.88 12.12 13.2 13.03L14.01 12.52C13.69 11.62 12.79 10.3 11.93 9.32ZM6.03 8.91C7 9.58 8.14 10.63 8.7 11.36L9.42 10.71C8.86 10.04 7.72 9.01 6.72 8.35ZM4.17 9.39L4.17 12.47C4.17 13.6 4.59 13.88 6.26 13.88C6.6 13.88 9.29 13.88 9.65 13.88C10.94 13.88 11.28 13.47 11.43 11.81C11.13 11.76 10.72 11.61 10.5 11.46C10.42 12.78 10.31 12.99 9.58 12.99C8.99 12.99 6.73 12.99 6.31 12.99C5.35 12.99 5.19 12.9 5.19 12.46L5.19 9.39ZM2.07 9.63C1.8 10.76 1.28 12.03 0.66 12.78L1.57 13.22C2.23 12.36 2.73 10.98 2.99 9.8ZM3.81 4.52L10.9 4.52L10.9 7.24L3.81 7.24ZM2.77 3.58L2.77 8.18L11.97 8.18L11.97 3.58L9.54 3.58C10.06 2.81 10.62 1.88 11.09 1.03L10.09 0.62C9.71 1.52 9.04 2.73 8.44 3.58L5.4 3.58L6.26 3.14C5.99 2.45 5.31 1.43 4.67 0.67L3.83 1.06C4.47 1.84 5.11 2.9 5.37 3.58Z")}
.t .u8ba1::after{clip-path:path("M2.07 1.5C2.89 2.19 3.9 3.19 4.37 3.82L5.03 3.09C4.55 2.47 3.52 1.53 2.71 0.87ZM0.7 5.23L0.7 6.2L3.07 6.2L3.07 11.61C3.07 12.24 2.61 12.65 2.35 12.83C2.54 13.03 2.8 13.47 2.89 13.72C3.11 13.43 3.51 13.13 6.23 11.2C6.15 11.01 5.97 10.61 5.91 10.33L4.05 11.59L4.05 5.23ZM9.23 0.64L9.23 5.52L5.47 5.52L5.47 6.52L9.23 6.52L9.23 14.04L10.25 14.04L10.25 6.52L14.05 6.52L14.05 5.52L10.25 5.52L10.25 0.64Z")}
.t .u5316::after{clip-path:path("M12.76 2.78C11.72 4.38 10.25 5.86 8.66 7.12L8.66 0.87L7.61 0.87L7.61 7.88C6.67 8.54 5.72 9.1 4.78 9.57C5.03 9.76 5.35 10.1 5.52 10.32C6.21 9.95 6.91 9.54 7.61 9.09L7.61 11.8C7.61 13.35 8.04 13.78 9.45 13.78C9.76 13.78 11.81 13.78 12.13 13.78C13.64 13.78 13.94 12.84 14.08 10.11C13.79 10.04 13.36 9.83 13.11 9.63C13.01 12.15 12.89 12.8 12.09 12.8C11.65 12.8 9.9 12.8 9.54 12.8C8.8 12.8 8.66 12.64 8.66 11.83L8.66 8.37C10.58 6.99 12.38 5.27 13.72 3.38ZM4.67 0.61C3.76 2.88 2.24 5.1 0.66 6.52C0.87 6.74 1.19 7.24 1.32 7.46C1.92 6.86 2.54 6.15 3.11 5.36L3.11 14.04L4.14 14.04L4.14 3.82C4.71 2.9 5.22 1.91 5.63 0.91Z")}
td b::after{clip-path:path("M6.77 10.2Q6.77 11.84 6.45 12.71Q6.13 13.59 5.51 13.59Q4.89 13.59 4.58 12.74Q4.27 11.88 4.27 10.2Q4.27 8.47 4.57 7.63Q4.87 6.78 5.52 6.78Q6.17 6.78 6.47 7.65Q6.77 8.52 6.77 10.2ZM1.96 13.5L1.35 13.5L4.98 2.8L5.6 2.8ZM1.43 2.71Q2.06 2.71 2.36 3.56Q2.67 4.41 2.67 6.1Q2.67 7.74 2.35 8.63Q2.04 9.52 1.42 9.52Q0.8 9.52 0.48 8.64Q0.17 7.76 0.17 6.1Q0.17 4.4 0.47 3.56Q0.78 2.71 1.43 2.71ZM6.19 10.2Q6.19 8.85 6.04 8.23Q5.88 7.62 5.52 7.62Q5.17 7.62 5.01 8.22Q4.85 8.82 4.85 10.2Q4.85 11.5 5 12.13Q5.16 12.76 5.52 12.76Q5.86 12.76 6.03 12.12Q6.19 11.49 6.19 10.2ZM2.09 6.1Q2.09 4.76 1.94 4.15Q1.79 3.53 1.43 3.53Q1.06 3.53 0.91 4.13Q0.75 4.74 0.75 6.1Q0.75 7.41 0.91 8.04Q1.06 8.66 1.43 8.66Q1.77 8.66 1.93 8.03Q2.09 7.39 2.09 6.1ZM7.17 10.2Q7.17 11.84 6.85 12.71Q6.53 13.59 5.91 13.59Q5.29 13.59 4.98 12.74Q4.67 11.88 4.67 10.2Q4.67 8.47 4.97 7.63Q5.27 6.78 5.92 6.78Q6.57 6.78 6.87 7.65Q7.17 8.52 7.17 10.2ZM2.36 13.5L1.75 13.5L5.38 2.8L6 2.8ZM1.83 2.71Q2.46 2.71 2.76 3.56Q3.07 4.41 3.07 6.1Q3.07 7.74 2.75 8.63Q2.44 9.52 1.82 9.52Q1.2 9.52 0.88 8.64Q0.57 7.76 0.57 6.1Q0.57 4.4 0.87 3.56Q1.18 2.71 1.83 2.71ZM6.59 10.2Q6.59 8.85 6.44 8.23Q6.28 7.62 5.92 7.62Q5.57 7.62 5.41 8.22Q5.25 8.82 5.25 10.2Q5.25 11.5 5.4 12.13Q5.56 12.76 5.92 12.76Q6.26 12.76 6.43 12.12Q6.59 11.49 6.59 10.2ZM2.49 6.1Q2.49 4.76 2.34 4.15Q2.19 3.53 1.83 3.53Q1.46 3.53 1.31 4.13Q1.15 4.74 1.15 6.1Q1.15 7.41 1.31 8.04Q1.46 8.66 1.83 8.66Q2.17 8.66 2.33 8.03Q2.49 7.39 2.49 6.1Z")}
</style></head>
<body>
<div id="sheet">
<table><colgroup><col class="h"><col><col><col><col><col><col><col><col><col><col><col><col><col><col><col><col></colgroup>
<tbody>
<tr><th></th><td class="l"><span class="d">2020</span><span class="c u5e74">年</span></td><td class="l"><span class="c u7b2c">第</span><span class="c u4e00">一</span><span class="c u5b63">季</span><span class="c u5ea6">度</span></td><td class="l"><span class="c u7b2c">第</span><span class="c u4e8c">二</span><span class="c u5b63">季</span><span class="c u5ea6">度</span></td><td class="l"><span class="c u7b2c">第</span><span class="c u4e09">三</span><span class="c u5b63">季</span><span class="c u5ea6">度</span></td><td class="l"><span class="c u7b2c">第</span><span class="c u56db">四</span><span class="c u5b63">季</span><span class="c u5ea6">度</span></td><td class="l"><span class="c u5168">全</span><span class="c u5e74">年</span><span class="c u5408">合</span><span class="c u8ba1">计</span></td><td class="l"><span class="d">2021</span><span class="c u5e74">年</span></td><td class="l"><span class="c u7b2c">第</span><span class="c u4e00">一</span><span class="c u5b63">季</span><span class="c u5ea6">度</span></td><td class="l"><span class="c u7b2c">第</span><span class="c u4e8c">二</span><span class="c u5b63">季</span><span class="c u5ea6">度</span></td><td class="l"><span class="c u7b2c">第</span><span class="c u4e09">三</span><span class="c u5b63">季</span><span class="c u5ea6">度</span></td><td class="l"><span class="c u7b2c">第</span><span class="c u56db">四</span><span class="c u5b63">季</span><span class="c u5ea6">度</span></td><td class="l"><span class="c u5168">全</span><span class="c u5e74">年</span><span class="c u5408">合</span><span class="c u8ba1">计</span></td><td></td><td class="l"><span class="c u516d">六</span><span class="c u5e74">年</span><span class="c u603b">总</span><span class="c u8ba1">计</span></td><td class="l"><span class="c u5e74">年</span><span class="c u5316">化</span></td><td></td></tr>
<tr><th></th><td class="l"><span class="c u6211">我</span></td><td class="n"><span class="d">6.43</span><b>%</b></td><td class="n"><span class="d">14.11</span><b>%</b></td><td class="n Y"><span class="d">16.42</span><b>%</b></td><td class="n"><span class="d">8.51</span><b>%</b></td><td class="n Y"><span class="d">53.43</span><b>%</b></td><td class="l"><span class="c u6211">我</span></td><td class="n"><span class="d">3.50</span><b>%</b></td><td class="n"><span class="d">16.02</span><b>%</b></td><td class="n"><span class="d">7.27</span><b>%</b></td><td class="n"><span class="d">6.02</span><b>%</b></td><td class="n Y"><span class="d">36.56</span><b>%</b></td><td class="l"><span class="c u6211">我</span></td><td class="n Y"><span class="d">331.24</span><b>%</b></td><td class="n k"><span class="d">27.59</span><b>%</b></td><td></td></tr>
<tr class="x"><th></th><td class="l"><span class="c u4e0a">上</span><span class="c u8bc1">证</span><span class="c u6307">指</span><span class="c u6570">数</span></td><td class="n b"><i>-</i><span class="d">9.83</span><b>%</b></td><td class="n"><span class="d">8.52</span><b>%</b></td><td class="n"><span class="d">7.82</span><b>%</b></td><td class="n"><span class="d">7.92</span><b>%</b></td><td class="n"><span class="d">13.86</span><b>%</b></td><td class="l"><span class="c u4e0a">上</span><span class="c u8bc1">证</span><span class="c u6307">指</span><span class="c u6570">数</span></td><td class="n b"><i>-</i><span class="d">0.90</span><b>%</b></td><td class="n"><span class="d">4.34</span><b>%</b></td><td class="n b"><i>-</i><span class="d">0.64</span><b>%</b></td><td class="n"><span class="d">2.01</span><b>%</b></td><td class="n"><span class="d">4.80</span><b>%</b></td><td class="l"><span class="c u4e0a">上</span><span class="c u8bc1">证</span><span class="c u6307">指</span><span class="c u6570">数</span></td><td class="n"><span class="d">2.84</span><b>%</b></td><td class="n k"><span class="d">0.47</span><b>%</b></td><td></td></tr>
<tr><th></th><td class="l"><span class="c u6df1">深</span><span class="c u5733">圳</span><span class="c u7efc">综</span><span class="c u6307">指</span></td><td class="n b"><i>-</i><span class="d">3.31</span><b>%</b></td><td class="n"><span class="d">18.58</span><b>%</b></td><td class="n"><span class="d">8.81</span><b>%</b></td><td class="n"><span class="d">8.37</span><b>%</b></td><td class="n"><span class="d">35.20</span><b>%</b></td><td class="l"><span class="c u6df1">深</span><span class="c u5733">圳</span><span class="c u7efc">综</span><span class="c u6307">指</span></td><td class="n b"><i>-</i><span class="d">4.80</span><b>%</b></td><td class="n"><span class="d">11.21</span><b>%</b></td><td class="n b"><i>-</i><span class="d">2.89</span><b>%</b></td><td class="n"><span class="d">5.64</span><b>%</b></td><td class="n"><span class="d">8.61</span><b>%</b></td><td class="l"><span class="c u6df1">深</span><span class="c u5733">圳</span><span class="c u7efc">综</span><span class="c u6307">指</span></td><td class="n"><span class="d">9.56</span><b>%</b></td><td class="n k"><span class="d">1.53</span><b>%</b></td><td></td></tr>
<tr><th></th><td class="l"><span class="c u521b">创</span><span class="c u4e1a">业</span><span class="c u677f">板</span><span class="c u7efc">综</span></td><td class="n"><span class="d">2.12</span><b>%</b></td><td class="n Y"><span class="d">25.28</span><b>%</b></td><td class="n"><span class="d">9.66</span><b>%</b></td><td class="n"><span class="d">5.38</span><b>%</b></td><td class="n"><span class="d">47.84</span><b>%</b></td><td class="l"><span class="c u521b">创</span><span class="c u4e1a">业</span><span class="c u677f">板</span><span class="c u7efc">综</span></td><td class="n b L"><i>-</i><span class="d">8.33</span><b>%</b></td><td class="n Y"><span class="d">24.50</span><b>%</b></td><td class="n b"><i>-</i><span class="d">2.95</span><b>%</b></td><td class="n"><span class="d">6.47</span><b>%</b></td><td class="n"><span class="d">17.93</span><b>%</b></td><td class="l"><span class="c u521b">创</span><span class="c u4e1a">业</span><span class="c u677f">板</span><span class="c u7efc">综</span></td><td class="n"><span class="d">12.35</span><b>%</b></td><td class="n k"><span class="d">1.96</span><b>%</b></td><td></td></tr>
<tr><th></th><td class="l"><span class="c u4e2d">中</span><span class="c u8bc1">证</span><span class="d">2000</span></td><td class="n b"><i>-</i><span class="d">1.24</span><b>%</b></td><td class="n"><span class="d">10.98</span><b>%</b></td><td class="n"><span class="d">8.91</span><b>%</b></td><td class="n b L"><i>-</i><span class="d">3.34</span><b>%</b></td><td class="n"><span class="d">15.38</span><b>%</b></td><td class="l"><span class="c u4e2d">中</span><span class="c u8bc1">证</span><span class="d">2000</span></td><td class="n b"><i>-</i><span class="d">4.50</span><b>%</b></td><td class="n"><span class="d">10.53</span><b>%</b></td><td class="n"><span class="d">5.98</span><b>%</b></td><td class="n"><span class="d">12.53</span><b>%</b></td><td class="n"><span class="d">25.89</span><b>%</b></td><td class="l"><span class="c u56fd">国</span><span class="c u8bc1">证</span><span class="d">2000</span></td><td class="n B"><i>-</i><span class="d">17.19</span><b>%</b></td><td class="n k"><i>-</i><span class="d">3.10</span><b>%</b></td><td></td></tr>
<tr><th></th><td class="l"><span class="c u4e2d">中</span><span class="c u8bc1">证</span><span class="d">500</span></td><td class="n b"><i>-</i><span class="d">4.29</span><b>%</b></td><td class="n"><span class="d">16.32</span><b>%</b></td><td class="n"><span class="d">5.59</span><b>%</b></td><td class="n"><span class="d">2.82</span><b>%</b></td><td class="n"><span class="d">20.87</span><b>%</b></td><td class="l"><span class="c u4e2d">中</span><span class="c u8bc1">证</span><span class="d">500</span></td><td class="n b"><i>-</i><span class="d">1.78</span><b>%</b></td><td class="n"><span class="d">8.86</span><b>%</b></td><td class="n"><span class="d">4.34</span><b>%</b></td><td class="n"><span class="d">3.60</span><b>%</b></td><td class="n"><span class="d">15.58</span><b>%</b></td><td class="l"><span class="c u4e2d">中</span><span class="c u8bc1">证</span><span class="d">500</span></td><td class="n B"><i>-</i><span class="d">3.41</span><b>%</b></td><td class="n k"><i>-</i><span class="d">0.58</span><b>%</b></td><td></td></tr>
<tr><th></th><td class="l"><span class="c u4e2d">中</span><span class="c u8bc1">证</span><span class="d">1000</span></td><td class="n"><i>-</i><span class="d">2.51</span><b>%</b></td><td class="n"><span class="d">16.44</span><b>%</b></td><td class="n"><span class="d">4.71</span><b>%</b></td><td class="n"><span class="d">0.44</span><b>%</b></td><td class="n"><span class="d">19.39</span><b>%</b></td><td class="l"><span class="c u4e2d">中</span><span class="c u8bc1">证</span><span class="d">1000</span></td><td class="n b"><i>-</i><span class="d">5.31</span><b>%</b></td><td class="n"><span class="d">12.56</span><b>%</b></td><td class="n"><span class="d">4.54</span><b>%</b></td><td class="n"><span class="d">8.17</span><b>%</b></td><td class="n"><span class="d">20.53</span><b>%</b></td><td class="l"><span class="c u4e2d">中</span><span class="c u8bc1">证</span><span class="d">1000</span></td><td class="n B"><i>-</i><span class="d">24.53</span><b>%</b></td><td class="n k"><i>-</i><span class="d">4.58</span><b>%</b></td><td></td></tr>
<tr><th></th><td class="l"><span class="c u4e0a">上</span><span class="c u8bc1">证</span><span class="d">50</span></td><td class="n b"><i>-</i><span class="d">12.20</span><b>%</b></td><td class="n"><span class="d">9.40</span><b>%</b></td><td class="n"><span class="d">9.87</span><b>%</b></td><td class="n"><span class="d">12.63</span><b>%</b></td><td class="n"><span class="d">18.86</span><b>%</b></td><td class="l"><span class="c u4e0a">上</span><span class="c u8bc1">证</span><span class="d">50</span></td><td class="n b"><i>-</i><span class="d">2.78</span><b>%</b></td><td class="n b L"><i>-</i><span class="d">1.15</span><b>%</b></td><td class="n b"><i>-</i><span class="d">8.62</span><b>%</b></td><td class="n"><span class="d">2.42</span><b>%</b></td><td class="n b"><i>-</i><span class="d">10.06</span><b>%</b></td><td class="l"><span class="c u4e0a">上</span><span class="c u8bc1">证</span><span class="d">50</span></td><td class="n"><span class="d">35.28</span><b>%</b></td><td class="n k"><span class="d">5.17</span><b>%</b></td><td></td></tr>
<tr><th></th><td class="l"><span class="c u6052">恒</span><span class="c u751f">生</span><span class="c u6307">指</span><span class="c u6570">数</span></td><td class="n b L"><i>-</i><span class="d">16.27</span><b>%</b></td><td class="n"><span class="d">3.49</span><b>%</b></td><td class="n b L"><i>-</i><span class="d">3.96</span><b>%</b></td><td class="n Y"><span class="d">16.08</span><b>%</b></td><td class="n b L"><i>-</i><span class="d">3.40</span><b>%</b></td><td class="l"><span class="c u6052">恒</span><span class="c u751f">生</span><span class="c u6307">指</span><span class="c u6570">数</span></td><td class="n Y"><span class="d">4.21</span><b>%</b></td><td class="n"><span class="d">1.58</span><b>%</b></td><td class="n b L"><i>-</i><span class="d">14.75</span><b>%</b></td><td class="n b L"><i>-</i><span class="d">4.79</span><b>%</b></td><td class="n b L"><i>-</i><span class="d">14.08</span><b>%</b></td><td class="l"><span class="c u6052">恒</span><span class="c u751f">生</span><span class="c u6307">指</span><span class="c u6570">数</span></td><td class="n"><span class="d">6.79</span><b>%</b></td><td class="n k"><span class="d">1.10</span><b>%</b></td><td></td></tr>
<tr><th></th><td class="l"><span class="c u4f01">企</span><span class="c u503a">债</span><span class="c u6307">指</span><span class="c u6570">数</span></td><td class="n"><span class="d">1.65</span><b>%</b></td><td class="n"><span class="d">1.41</span><b>%</b></td><td class="n"><span class="d">0.65</span><b>%</b></td><td class="n"><span class="d">0.71</span><b>%</b></td><td class="n"><span class="d">4.49</span><b>%</b></td><td class="l"><span class="c u4f01">企</span><span class="c u503a">债</span><span class="c u6307">指</span><span class="c u6570">数</span></td><td class="n"><span class="d">1.05</span><b>%</b></td><td class="n"><span class="d">1.17</span><b>%</b></td><td class="n"><span class="d">1.03</span><b>%</b></td><td class="n"><span class="d">0.74</span><b>%</b></td><td class="n"><span class="d">4.05</span><b>%</b></td><td class="l"><span class="c u4f01">企</span><span class="c u503a">债</span><span class="c u6307">指</span><span class="c u6570">数</span></td><td class="n"><span class="d">31.68</span><b>%</b></td><td class="n k"><span class="d">4.70</span><b>%</b></td><td></td></tr>
<tr><th></th><td class="l"><span class="c u8f6c">转</span><span class="c u503a">债</span><span class="c u7b49">等</span><span class="c u6743">权</span></td><td class="n Y"><span class="d">11.76</span><b>%</b></td><td class="n b L"><i>-</i><span class="d">0.76</span><b>%</b></td><td class="n"><span class="d">6.90</span><b>%</b></td><td class="n"><span class="d">3.96</span><b>%</b></td><td class="n"><span class="d">23.26</span><b>%</b></td><td class="l"><span class="c u8f6c">转</span><span class="c u503a">债</span><span class="c u7b49">等</span><span class="c u6743">权</span></td><td class="n b"><i>-</i><span class="d">1.00</span><b>%</b></td><td class="n"><span class="d">9.52</span><b>%</b></td><td class="n Y"><span class="d">10.83</span><b>%</b></td><td class="n Y"><span class="d">12.85</span><b>%</b></td><td class="n"><span class="d">35.61</span><b>%</b></td><td class="l"><span class="c u6caa">沪</span><span class="c u6df1">深</span><span class="d">300</span></td><td class="n"><span class="d">30.00</span><b>%</b></td><td class="n k"><span class="d">4.47</span><b>%</b></td><td></td></tr>
<tr><th></th><td class="l"><span class="c u5341">十</span><span class="c u6307">指</span><span class="c u5e73">平</span><span class="c u5747">均</span></td><td class="n b T"><i>-</i><span class="d">3.41</span><b>%</b></td><td class="n T"><span class="d">10.97</span><b>%</b></td><td class="n T"><span class="d">5.90</span><b>%</b></td><td class="n T"><span class="d">5.50</span><b>%</b></td><td class="n"><span class="d">19.58</span><b>%</b></td><td class="l"><span class="c u5341">十</span><span class="c u6307">指</span><span class="c u5e73">平</span><span class="c u5747">均</span></td><td class="n b T"><i>-</i><span class="d">2.41</span><b>%</b></td><td class="n T"><span class="d">8.31</span><b>%</b></td><td class="n b T"><i>-</i><span class="d">0.31</span><b>%</b></td><td class="n T"><span class="d">4.96</span><b>%</b></td><td class="n"><span class="d">10.89</span><b>%</b></td><td class="l"><span class="c u5341">十</span><span class="c u6307">指</span><span class="c u5e73">平</span><span class="c u5747">均</span></td><td class="n"><span class="d">8.34</span><b>%</b></td><td class="n k"><span class="d">1.34</span><b>%</b></td><td></td></tr>
<tr><th></th><td class="l"><span class="c u8d85">超</span><span class="c u8d8a">越</span></td><td class="n"><span class="d">9.85</span><b>%</b></td><td class="n"><span class="d">3.14</span><b>%</b></td><td class="n"><span class="d">10.53</span><b>%</b></td><td class="n"><span class="d">3.01</span><b>%</b></td><td class="n"><span class="d">33.85</span><b>%</b></td><td class="l"><span class="c u8d85">超</span><span class="c u8d8a">越</span></td><td class="n"><span class="d">5.91</span><b>%</b></td><td class="n"><span class="d">7.71</span><b>%</b></td><td class="n"><span class="d">7.58</span><b>%</b></td><td class="n"><span class="d">1.06</span><b>%</b></td><td class="n"><span class="d">25.68</span><b>%</b></td><td class="l"><span class="c u8d85">超</span><span class="c u8d8a">越</span></td><td class="n"><span class="d">322.90</span><b>%</b></td><td class="n k"><span class="d">27.17</span><b>%</b></td><td></td></tr>
<tr><th></th><td></td><td></td><td></td><td></td><td></td><td></td><td></td><td></td><td></td><td></td><td></td><td></td><td></td><td></td><td></td><td></td></tr>
<tr><th></th><td class="l"><span class="d">2022</span><span class="c u5e74">年</span></td><td class="l"><span class="c u7b2c">第</span><span class="c u4e00">一</span><span class="c u5b63">季</span><span class="c u5ea6">度</span></td><td class="l"><span class="c u7b2c">第</span><span class="c u4e8c">二</span><span class="c u5b63">季</span><span class="c u5ea6">度</span></td><td class="l"><span class="c u7b2c">第</span><span class="c u4e09">三</span><span class="c u5b63">季</span><span class="c u5ea6">度</span></td><td class="l"><span class="c u7b2c">第</span><span class="c u56db">四</span><span class="c u5b63">季</span><span class="c u5ea6">度</span></td><td class="l"><span class="c u5168">全</span><span class="c u5e74">年</span><span class="c u5408">合</span><span class="c u8ba1">计</span></td><td class="l"><span class="d">2023</span><span class="c u5e74">年</span></td><td class="l"><span class="c u7b2c">第</span><span class="c u4e00">一</span><span class="c u5b63">季</span><span class="c u5ea6">度</span></td><td class="l"><span class="c u7b2c">第</span><span class="c u4e8c">二</span><span class="c u5b63">季</span><span class="c u5ea6">度</span></td><td class="l"><span class="c u7b2c">第</span><span class="c u4e09">三</span><span class="c u5b63">季</span><span class="c u5ea6">度</span></td><td class="l"><span class="c u7b2c">第</span><span class="c u56db">四</span><span class="c u5b63">季</span><span class="c u5ea6">度</span></td><td class="l"><span class="c u5168">全</span><span class="c u5e74">年</span><span class="c u5408">合</span><span class="c u8ba1">计</span></td><td></td><td class="l"><span class="c u516b">八</span><span class="c u5e74">年</span><span class="c u603b">总</span><span class="c u8ba1">计</span></td><td class="l"><span class="c u5e74">年</span><span class="c u5316">化</span></td><td></td></tr>
<tr><th></th><td class="l"><span class="c u6211">我</span></td><td class="n b"><i>-</i><span class="d">6.51</span><b>%</b></td><td class="n"><span class="d">5.12</span><b>%</b></td><td class="n b"><i>-</i><span class="d">7.73</span><b>%</b></td><td class="n"><span class="d">7.29</span><b>%</b></td><td class="n b"><i>-</i><span class="d">2.71</span><b>%</b></td><td class="l"><span class="c u6211">我</span></td><td class="n"><span class="d">7.02</span><b>%</b></td><td class="n b"><i>-</i><span class="d">0.81</span><b>%</b></td><td class="n b"><i>-</i><span class="d">1.86</span><b>%</b></td><td class="n b"><i>-</i><span class="d">1.16</span><b>%</b></td><td class="n"><span class="d">2.97</span><b>%</b></td><td class="l"><span class="c u6211">我</span></td><td class="n Y"><span class="d">332.02</span><b>%</b></td><td class="n k"><span class="d">20.07</span><b>%</b></td><td></td></tr>
<tr><th></th><td class="l"><span class="c u4e0a">上</span><span class="c u8bc1">证</span><span class="c u6307">指</span><span class="c u6570">数</span></td><td class="n b"><i>-</i><span class="d">10.65</span><b>%</b></td><td class="n"><span class="d">4.50</span><b>%</b></td><td class="n b"><i>-</i><span class="d">11.01</span><b>%</b></td><td class="n"><span class="d">2.14</span><b>%</b></td><td class="n b"><i>-</i><span class="d">15.13</span><b>%</b></td><td class="l"><span class="c u4e0a">上</span><span class="c u8bc1">证</span><span class="c u6307">指</span><span class="c u6570">数</span></td><td class="n"><span class="d">5.94</span><b>%</b></td><td class="n b"><i>-</i><span class="d">2.16</span><b>%</b></td><td class="n b"><i>-</i><span class="d">2.86</span><b>%</b></td><td class="n b"><i>-</i><span class="d">4.36</span><b>%</b></td><td class="n b"><i>-</i><span class="d">3.70</span><b>%</b></td><td class="l"><span class="c u4e0a">上</span><span class="c u8bc1">证</span><span class="c u6307">指</span><span class="c u6570">数</span></td><td class="n B"><i>-</i><span class="d">15.95</span><b>%</b></td><td class="n k"><i>-</i><span class="d">2.15</span><b>%</b></td><td></td></tr>
<tr><th></th><td class="l"><span class="c u6df1">深</span><span class="c u5733">圳</span><span class="c u7efc">综</span><span class="c u6307">指</span></td><td class="n b"><i>-</i><span class="d">16.29</span><b>%</b></td><td class="n"><span class="d">5.01</span><b>%</b></td><td class="n b"><i>-</i><span class="d">14.03</span><b>%</b></td><td class="n"><span class="d">3.33</span><b>%</b></td><td class="n b"><i>-</i><span class="d">21.91</span><b>%</b></td><td class="l"><span class="c u6df1">深</span><span class="c u5733">圳</span><span class="c u7efc">综</span><span class="c u6307">指</span></td><td class="n"><span class="d">7.55</span><b>%</b></td><td class="n b"><i>-</i><span class="d">3.55</span><b>%</b></td><td class="n b"><i>-</i><span class="d">6.78</span><b>%</b></td><td class="n b"><i>-</i><span class="d">3.79</span><b>%</b></td><td class="n b"><i>-</i><span class="d">6.97</span><b>%</b></td><td class="l"><span class="c u6df1">深</span><span class="c u5733">圳</span><span class="c u7efc">综</span><span class="c u6307">指</span></td><td class="n B"><i>-</i><span class="d">20.41</span><b>%</b></td><td class="n k"><i>-</i><span class="d">2.81</span><b>%</b></td><td></td></tr>
<tr><th></th><td class="l"><span class="c u521b">创</span><span class="c u4e1a">业</span><span class="c u677f">板</span><span class="c u7efc">综</span></td><td class="n b L"><i>-</i><span class="d">18.25</span><b>%</b></td><td class="n"><span class="d">2.86</span><b>%</b></td><td class="n b"><i>-</i><span class="d">15.79</span><b>%</b></td><td class="n"><span class="d">3.40</span><b>%</b></td><td class="n b L"><i>-</i><span class="d">26.78</span><b>%</b></td><td class="l"><span class="c u521b">创</span><span class="c u4e1a">业</span><span class="c u677f">板</span><span class="c u7efc">综</span></td><td class="n"><span class="d">8.87</span><b>%</b></td><td class="n b"><i>-</i><span class="d">2.93</span><b>%</b></td><td class="n b"><i>-</i><span class="d">8.25</span><b>%</b></td><td class="n b"><i>-</i><span class="d">2.45</span><b>%</b></td><td class="n b"><i>-</i><span class="d">5.41</span><b>%</b></td><td class="l"><span class="c u521b">创</span><span class="c u4e1a">业</span><span class="c u677f">板</span><span class="c u7efc">综</span></td><td class="n B"><i>-</i><span class="d">22.19</span><b>%</b></td><td class="n k"><i>-</i><span class="d">3.09</span><b>%</b></td><td></td></tr>
<tr><th></th><td class="l"><span class="c u4e2d">中</span><span class="c u8bc1">证</span><span class="d">2000</span></td><td class="n b"><i>-</i><span class="d">10.34</span><b>%</b></td><td class="n b"><i>-</i><span class="d">1.23</span><b>%</b></td><td class="n b"><i>-</i><span class="d">9.55</span><b>%</b></td><td class="n"><span class="d">6.39</span><b>%</b></td><td class="n b"><i>-</i><span class="d">14.78</span><b>%</b></td><td class="l"><span class="c u4e2d">中</span><span class="c u8bc1">证</span><span class="d">2000</span></td><td class="n Y"><span class="d">9.41</span><b>%</b></td><td class="n"><span class="d">0.42</span><b>%</b></td><td class="n b"><i>-</i><span class="d">5.73</span><b>%</b></td><td class="n Y"><span class="d">1.92</span><b>%</b></td><td class="n Y"><span class="d">5.56</span><b>%</b></td><td class="l"><span class="c u4e2d">中</span><span class="c u8bc1">证</span><span class="d">2000</span></td><td class="n B"><i>-</i><span class="d">25.51</span><b>%</b></td><td class="n k"><i>-</i><span class="d">3.61</span><b>%</b></td><td></td></tr>
<tr><th></th><td class="l"><span class="c u4e2d">中</span><span class="c u8bc1">证</span><span class="d">500</span></td><td class="n b"><i>-</i><span class="d">14.06</span><b>%</b></td><td class="n"><span class="d">2.04</span><b>%</b></td><td class="n b"><i>-</i><span class="d">11.47</span><b>%</b></td><td class="n"><span class="d">2.63</span><b>%</b></td><td class="n b"><i>-</i><span class="d">20.32</span><b>%</b></td><td class="l"><span class="c u4e2d">中</span><span class="c u8bc1">证</span><span class="d">500</span></td><td class="n"><span class="d">8.11</span><b>%</b></td><td class="n b"><i>-</i><span class="d">5.38</span><b>%</b></td><td class="n b"><i>-</i><span class="d">5.13</span><b>%</b></td><td class="n b"><i>-</i><span class="d">4.60</span><b>%</b></td><td class="n b"><i>-</i><span class="d">7.42</span><b>%</b></td><td class="l"><span class="c u4e2d">中</span><span class="c u8bc1">证</span><span class="d">500</span></td><td class="n B"><i>-</i><span class="d">28.75</span><b>%</b></td><td class="n k"><i>-</i><span class="d">4.15</span><b>%</b></td><td></td></tr>
<tr><th></th><td class="l"><span class="c u4e2d">中</span><span class="c u8bc1">证</span><span class="d">1000</span></td><td class="n b"><i>-</i><span class="d">15.46</span><b>%</b></td><td class="n"><span class="d">3.30</span><b>%</b></td><td class="n b"><i>-</i><span class="d">12.45</span><b>%</b></td><td class="n"><span class="d">2.56</span><b>%</b></td><td class="n b"><i>-</i><span class="d">21.59</span><b>%</b></td><td class="l"><span class="c u4e2d">中</span><span class="c u8bc1">证</span><span class="d">1000</span></td><td class="n"><span class="d">9.46</span><b>%</b></td><td class="n b"><i>-</i><span class="d">3.98</span><b>%</b></td><td class="n b L"><i>-</i><span class="d">7.92</span><b>%</b></td><td class="n b"><i>-</i><span class="d">3.15</span><b>%</b></td><td class="n b"><i>-</i><span class="d">6.27</span><b>%</b></td><td class="l"><span class="c u4e2d">中</span><span class="c u8bc1">证</span><span class="d">1000</span></td><td class="n B"><i>-</i><span class="d">44.53</span><b>%</b></td><td class="n k"><i>-</i><span class="d">7.10</span><b>%</b></td><td></td></tr>
<tr><th></th><td class="l"><span class="c u4e0a">上</span><span class="c u8bc1">证</span><span class="d">50</span></td><td class="n b"><i>-</i><span class="d">11.47</span><b>%</b></td><td class="n"><span class="d">5.50</span><b>%</b></td><td class="n b"><i>-</i><span class="d">14.66</span><b>%</b></td><td class="n"><span class="d">0.96</span><b>%</b></td><td class="n b"><i>-</i><span class="d">19.53</span><b>%</b></td><td class="l"><span class="c u4e0a">上</span><span class="c u8bc1">证</span><span class="d">50</span></td><td class="n"><span class="d">1.01</span><b>%</b></td><td class="n b"><i>-</i><span class="d">6.38</span><b>%</b></td><td class="n"><span class="d">0.60</span><b>%</b></td><td class="n b L"><i>-</i><span class="d">7.22</span><b>%</b></td><td class="n b"><i>-</i><span class="d">11.74</span><b>%</b></td><td class="l"><span class="c u4e0a">上</span><span class="c u8bc1">证</span><span class="d">50</span></td><td class="n B"><i>-</i><span class="d">3.91</span><b>%</b></td><td class="n k"><i>-</i><span class="d">0.50</span><b>%</b></td><td></td></tr>
<tr><th></th><td class="l"><span class="c u6052">恒</span><span class="c u751f">生</span><span class="c u6307">指</span><span class="c u6570">数</span></td><td class="n b"><i>-</i><span class="d">5.99</span><b>%</b></td><td class="n b L"><i>-</i><span class="d">0.62</span><b>%</b></td><td class="n b L"><i>-</i><span class="d">21.21</span><b>%</b></td><td class="n Y"><span class="d">14.86</span><b>%</b></td><td class="n b"><i>-</i><span class="d">15.45</span><b>%</b></td><td class="l"><span class="c u6052">恒</span><span class="c u751f">生</span><span class="c u6307">指</span><span class="c u6570">数</span></td><td class="n"><span class="d">3.13</span><b>%</b></td><td class="n b L"><i>-</i><span class="d">7.12</span><b>%</b></td><td class="n b"><i>-</i><span class="d">5.85</span><b>%</b></td><td class="n b"><i>-</i><span class="d">4.28</span><b>%</b></td><td class="n b P"><i>-</i><span class="d">13.68</span><b>%</b></td><td class="l"><span class="c u6052">恒</span><span class="c u751f">生</span><span class="c u6307">指</span><span class="c u6570">数</span></td><td class="n B"><i>-</i><span class="d">22.06</span><b>%</b></td><td class="n k"><i>-</i><span class="d">3.07</span><b>%</b></td><td></td></tr>
<tr><th></th><td class="l"><span class="c u4f01">企</span><span class="c u503a">债</span><span class="c u6307">指</span><span class="c u6570">数</span></td><td class="n Y"><span class="d">0.91</span><b>%</b></td><td class="n"><span class="d">0.94</span><b>%</b></td><td class="n Y"><span class="d">0.99</span><b>%</b></td><td class="n"><span class="d">0.82</span><b>%</b></td><td class="n Y"><span class="d">3.71</span><b>%</b></td><td class="l"><span class="c u4f01">企</span><span class="c u503a">债</span><span class="c u6307">指</span><span class="c u6570">数</span></td><td class="n L"><span class="d">0.97</span><b>%</b></td><td class="n Y"><span class="d">1.04</span><b>%</b></td><td class="n Y"><span class="d">0.95</span><b>%</b></td><td class="n"><span class="d">0.95</span><b>%</b></td><td class="n"><span class="d">3.97</span><b>%</b></td><td class="l"><span class="c u4f01">企</span><span class="c u503a">债</span><span class="c u6307">指</span><span class="c u6570">数</span></td><td class="n"><span class="d">41.99</span><b>%</b></td><td class="n k"><span class="d">4.48</span><b>%</b></td><td></td></tr>
<tr><th></th><td class="l"><span class="c u8f6c">转</span><span class="c u503a">债</span><span class="c u7b49">等</span><span class="c u6743">权</span></td><td class="n b"><i>-</i><span class="d">8.56</span><b>%</b></td><td class="n Y"><span class="d">10.00</span><b>%</b></td><td class="n b"><i>-</i><span class="d">6.20</span><b>%</b></td><td class="n b L"><i>-</i><span class="d">0.91</span><b>%</b></td><td class="n b"><i>-</i><span class="d">6.51</span><b>%</b></td><td class="l"><span class="c u8f6c">转</span><span class="c u503a">债</span><span class="c u7b49">等</span><span class="c u6743">权</span></td><td class="n"><span class="d">6.49</span><b>%</b></td><td class="n b"><i>-</i><span class="d">0.66</span><b>%</b></td><td class="n b"><i>-</i><span class="d">1.74</span><b>%</b></td><td class="n b"><i>-</i><span class="d">2.32</span><b>%</b></td><td class="n"><span class="d">1.53</span><b>%</b></td><td class="l"><span class="c u6caa">沪</span><span class="c u6df1">深</span><span class="d">300</span></td><td class="n B"><i>-</i><span class="d">0.64</span><b>%</b></td><td class="n k"><i>-</i><span class="d">0.08</span><b>%</b></td><td></td></tr>
<tr><th></th><td class="l"><span class="c u5341">十</span><span class="c u6307">指</span><span class="c u5e73">平</span><span class="c u5747">均</span></td><td class="n b T"><i>-</i><span class="d">11.02</span><b>%</b></td><td class="n T"><span class="d">3.23</span><b>%</b></td><td class="n b T"><i>-</i><span class="d">11.54</span><b>%</b></td><td class="n T"><span class="d">3.62</span><b>%</b></td><td class="n b"><i>-</i><span class="d">15.80</span><b>%</b></td><td class="l"><span class="c u5341">十</span><span class="c u6307">指</span><span class="c u5e73">平</span><span class="c u5747">均</span></td><td class="n T"><span class="d">6.09</span><b>%</b></td><td class="n b T"><i>-</i><span class="d">3.07</span><b>%</b></td><td class="n b T"><i>-</i><span class="d">4.27</span><b>%</b></td><td class="n b T"><i>-</i><span class="d">2.93</span><b>%</b></td><td class="n b T"><i>-</i><span class="d">4.41</span><b>%</b></td><td class="l"><span class="c u5341">十</span><span class="c u6307">指</span><span class="c u5e73">平</span><span class="c u5747">均</span></td><td class="n B"><i>-</i><span class="d">14.20</span><b>%</b></td><td class="n k"><i>-</i><span class="d">1.90</span><b>%</b></td><td></td></tr>
<tr><th></th><td class="l"><span class="c u8d85">超</span><span class="c u8d8a">越</span></td><td class="n"><span class="d">4.51</span><b>%</b></td><td class="n"><span class="d">1.89</span><b>%</b></td><td class="n"><span class="d">3.81</span><b>%</b></td><td class="n"><span class="d">3.67</span><b>%</b></td><td class="n"><span class="d">13.09</span><b>%</b></td><td class="l"><span class="c u8d85">超</span><span class="c u8d8a">越</span></td><td class="n"><span class="d">0.93</span><b>%</b></td><td class="n"><span class="d">2.26</span><b>%</b></td><td class="n"><span class="d">2.41</span><b>%</b></td><td class="n"><span class="d">1.77</span><b>%</b></td><td class="n"><span class="d">7.57</span><b>%</b></td><td class="l"><span class="c u8d85">超</span><span class="c u8d8a">越</span></td><td class="n"><span class="d">346.21</span><b>%</b></td><td class="n k"><span class="d">20.56</span><b>%</b></td><td></td></tr>
<tr><th></th><td></td><td></td><td></td><td></td><td></td><td></td><td></td><td></td><td></td><td></td><td></td><td></td><td></td><td></td><td></td><td></td></tr>
<tr><th></th><td class="l"><span class="d">2024</span><span class="c u5e74">年</span></td><td class="l"><span class="c u7b2c">第</span><span class="c u4e00">一</span><span class="c u5b63">季</span><span class="c u5ea6">度</span></td><td class="l"><span class="c u7b2c">第</span><span class="c u4e8c">二</span><span class="c u5b63">季</span><span class="c u5ea6">度</span></td><td class="l"><span class="c u7b2c">第</span><span class="c u4e09">三</span><span class="c u5b63">季</span><span class="c u5ea6">度</span></td><td class="l"><span class="c u7b2c">第</span><span class="c u56db">四</span><span class="c u5b63">季</span><span class="c u5ea6">度</span></td><td class="l"><span class="c u5168">全</span><span class="c u5e74">年</span><span class="c u5408">合</span><span class="c u8ba1">计</span></td><td class="l"><span class="d">2025</span><span class="c u5e74">年</span></td><td class="l"><span class="c u7b2c">第</span><span class="c u4e00">一</span><span class="c u5b63">季</span><span class="c u5ea6">度</span></td><td class="l"><span class="c u7b2c">第</span><span class="c u4e8c">二</span><span class="c u5b63">季</span><span class="c u5ea6">度</span></td><td class="l"><span class="c u7b2c">第</span><span class="c u4e09">三</span><span class="c u5b63">季</span><span class="c u5ea6">度</span></td><td class="l"><span class="c u7b2c">第</span><span class="c u56db">四</span><span class="c u5b63">季</span><span class="c u5ea6">度</span></td><td class="l"><span class="c u5168">全</span><span class="c u5e74">年</span><span class="c u5408">合</span><span class="c u8ba1">计</span></td><td></td><td class="l t"><span class="c u5341">十</span><span class="c u5e74">年</span><span class="c u603b">总</span><span class="c u8ba1">计</span></td><td class="l t"><span class="c u5e74">年</span><span class="c u5316">化</span></td><td></td></tr>
<tr><th></th><td class="l"><span class="c u6211">我</span></td><td class="n b"><i>-</i><span class="d">0.93</span><b>%</b></td><td class="n b"><i>-</i><span class="d">1.71</span><b>%</b></td><td class="n"><span class="d">14.37</span><b>%</b></td><td class="n"><span class="d">6.15</span><b>%</b></td><td class="n"><span class="d">18.23</span><b>%</b></td><td class="l"><span class="c u6211">我</span></td><td class="n"><span class="d">5.89</span><b>%</b></td><td class="n"><span class="d">5.58</span><b>%</b></td><td class="n"><span class="d">12.88</span><b>%</b></td><td class="n"><span class="d">3.36</span><b>%</b></td><td class="n"><span class="d">30.45</span><b>%</b></td><td class="l"><span class="c u6211">我</span></td><td class="n"><span class="d">566.29</span><b>%</b></td><td class="n"><span class="d">20.88</span><b>%</b></td><td></td></tr>
<tr><th></th><td class="l"><span class="c u4e0a">上</span><span class="c u8bc1">证</span><span class="c u6307">指</span><span class="c u6570">数</span></td><td class="n"><span class="d">2.23</span><b>%</b></td><td class="n b"><i>-</i><span class="d">2.43</span><b>%</b></td><td class="n"><span class="d">12.44</span><b>%</b></td><td class="n"><span class="d">0.46</span><b>%</b></td><td class="n"><span class="d">12.67</span><b>%</b></td><td class="l"><span class="c u4e0a">上</span><span class="c u8bc1">证</span><span class="c u6307">指</span><span class="c u6570">数</span></td><td class="n b"><i>-</i><span class="d">0.48</span><b>%</b></td><td class="n"><span class="d">3.26</span><b>%</b></td><td class="n"><span class="d">12.73</span><b>%</b></td><td class="n"><span class="d">2.22</span><b>%</b></td><td class="n"><span class="d">18.42</span><b>%</b></td><td class="l"><span class="c u4e0a">上</span><span class="c u8bc1">证</span><span class="c u6307">指</span><span class="c u6570">数</span></td><td class="n"><span class="d">12.14</span><b>%</b></td><td class="n"><span class="d">1.15</span><b>%</b></td><td></td></tr>
<tr><th></th><td class="l"><span class="c u6df1">深</span><span class="c u5733">圳</span><span class="c u7efc">综</span><span class="c u6307">指</span></td><td class="n b"><i>-</i><span class="d">4.91</span><b>%</b></td><td class="n b"><i>-</i><span class="d">7.41</span><b>%</b></td><td class="n"><span class="d">19.12</span><b>%</b></td><td class="n"><span class="d">1.55</span><b>%</b></td><td class="n"><span class="d">6.50</span><b>%</b></td><td class="l"><span class="c u6df1">深</span><span class="c u5733">圳</span><span class="c u7efc">综</span><span class="c u6307">指</span></td><td class="n"><span class="d">2.44</span><b>%</b></td><td class="n"><span class="d">3.48</span><b>%</b></td><td class="n"><span class="d">21.43</span><b>%</b></td><td class="n"><span class="d">0.46</span><b>%</b></td><td class="n"><span class="d">29.31</span><b>%</b></td><td class="l"><span class="c u6df1">深</span><span class="c u5733">圳</span><span class="c u7efc">综</span><span class="c u6307">指</span></td><td class="n"><span class="d">9.62</span><b>%</b></td><td class="n"><span class="d">0.92</span><b>%</b></td><td></td></tr>
<tr><th></th><td class="l"><span class="c u521b">创</span><span class="c u4e1a">业</span><span class="c u677f">板</span><span class="c u7efc">综</span></td><td class="n b"><i>-</i><span class="d">7.79</span><b>%</b></td><td class="n b"><i>-</i><span class="d">8.50</span><b>%</b></td><td class="n Y"><span class="d">26.08</span><b>%</b></td><td class="n"><span class="d">3.06</span><b>%</b></td><td class="n"><span class="d">9.63</span><b>%</b></td><td class="l"><span class="c u521b">创</span><span class="c u4e1a">业</span><span class="c u677f">板</span><span class="c u7efc">综</span></td><td class="n"><span class="d">2.82</span><b>%</b></td><td class="n"><span class="d">5.80</span><b>%</b></td><td class="n Y"><span class="d">30.01</span><b>%</b></td><td class="n b"><i>-</i><span class="d">0.73</span><b>%</b></td><td class="n"><span class="d">40.40</span><b>%</b></td><td class="l"><span class="c u521b">创</span><span class="c u4e1a">业</span><span class="c u677f">板</span><span class="c u7efc">综</span></td><td class="n"><span class="d">19.76</span><b>%</b></td><td class="n"><span class="d">1.82</span><b>%</b></td><td></td></tr>
<tr><th></th><td class="l"><span class="c u4e2d">中</span><span class="c u8bc1">证</span><span class="d">2000</span></td><td class="n b L"><i>-</i><span class="d">11.05</span><b>%</b></td><td class="n b L"><i>-</i><span class="d">13.75</span><b>%</b></td><td class="n"><span class="d">17.67</span><b>%</b></td><td class="n Y"><span class="d">8.40</span><b>%</b></td><td class="n b"><i>-</i><span class="d">2.14</span><b>%</b></td><td class="l"><span class="c u4e2d">中</span><span class="c u8bc1">证</span><span class="d">2000</span></td><td class="n"><span class="d">7.08</span><b>%</b></td><td class="n Y"><span class="d">7.62</span><b>%</b></td><td class="n"><span class="d">14.31</span><b>%</b></td><td class="n Y"><span class="d">3.55</span><b>%</b></td><td class="n"><span class="d">36.41</span><b>%</b></td><td class="l"><span class="c u4e2d">中</span><span class="c u8bc1">证</span><span class="d">2000</span></td><td class="n b"><i>-</i><span class="d">0.56</span><b>%</b></td><td class="n b"><i>-</i><span class="d">0.06</span><b>%</b></td><td></td></tr>
<tr><th></th><td class="l"><span class="c u4e2d">中</span><span class="c u8bc1">证</span><span class="d">500</span></td><td class="n b"><i>-</i><span class="d">2.64</span><b>%</b></td><td class="n b"><i>-</i><span class="d">6.50</span><b>%</b></td><td class="n"><span class="d">16.19</span><b>%</b></td><td class="n b"><i>-</i><span class="d">0.30</span><b>%</b></td><td class="n"><span class="d">5.45</span><b>%</b></td><td class="l"><span class="c u4e2d">中</span><span class="c u8bc1">证</span><span class="d">500</span></td><td class="n"><span class="d">2.31</span><b>%</b></td><td class="n"><span class="d">0.98</span><b>%</b></td><td class="n"><span class="d">25.31</span><b>%</b></td><td class="n"><span class="d">0.72</span><b>%</b></td><td class="n"><span class="d">30.39</span><b>%</b></td><td class="l"><span class="c u4e2d">中</span><span class="c u8bc1">证</span><span class="d">500</span></td><td class="n b"><i>-</i><span class="d">2.03</span><b>%</b></td><td class="n b"><i>-</i><span class="d">0.20</span><b>%</b></td><td></td></tr>
<tr><th></th><td class="l"><span class="c u4e2d">中</span><span class="c u8bc1">证</span><span class="d">1000</span></td><td class="n b"><i>-</i><span class="d">7.58</span><b>%</b></td><td class="n b"><i>-</i><span class="d">10.02</span><b>%</b></td><td class="n"><span class="d">16.60</span><b>%</b></td><td class="n"><span class="d">4.36</span><b>%</b></td><td class="n"><span class="d">1.19</span><b>%</b></td><td class="l"><span class="c u4e2d">中</span><span class="c u8bc1">证</span><span class="d">1000</span></td><td class="n"><span class="d">4.51</span><b>%</b></td><td class="n"><span class="d">2.08</span><b>%</b></td><td class="n"><span class="d">19.17</span><b>%</b></td><td class="n"><span class="d">0.27</span><b>%</b></td><td class="n"><span class="d">27.48</span><b>%</b></td><td class="l"><span class="c u4e2d">中</span><span class="c u8bc1">证</span><span class="d">1000</span></td><td class="n b"><i>-</i><span class="d">28.45</span><b>%</b></td><td class="n b"><i>-</i><span class="d">3.29</span><b>%</b></td><td></td></tr>
<tr><th></th><td class="l"><span class="c u4e0a">上</span><span class="c u8bc1">证</span><span class="d">50</span></td><td class="n Y"><span class="d">3.82</span><b>%</b></td><td class="n b"><i>-</i><span class="d">0.83</span><b>%</b></td><td class="n"><span class="d">15.05</span><b>%</b></td><td class="n b"><i>-</i><span class="d">2.56</span><b>%</b></td><td class="n"><span class="d">15.42</span><b>%</b></td><td class="l"><span class="c u4e0a">上</span><span class="c u8bc1">证</span><span class="d">50</span></td><td class="n b P"><i>-</i><span class="d">0.71</span><b>%</b></td><td class="n"><span class="d">1.74</span><b>%</b></td><td class="n"><span class="d">10.21</span><b>%</b></td><td class="n"><span class="d">1.41</span><b>%</b></td><td class="n"><span class="d">12.90</span><b>%</b></td><td class="l"><span class="c u4e0a">上</span><span class="c u8bc1">证</span><span class="d">50</span></td><td class="n"><span class="d">25.21</span><b>%</b></td><td class="n"><span class="d">2.27</span><b>%</b></td><td></td></tr>
<tr><th></th><td class="l"><span class="c u6052">恒</span><span class="c u751f">生</span><span class="c u6307">指</span><span class="c u6570">数</span></td><td class="n b"><i>-</i><span class="d">2.97</span><b>%</b></td><td class="n Y"><span class="d">7.12</span><b>%</b></td><td class="n"><span class="d">19.27</span><b>%</b></td><td class="n b P"><i>-</i><span class="d">5.08</span><b>%</b></td><td class="n Y"><span class="d">17.67</span><b>%</b></td><td class="l"><span class="c u6052">恒</span><span class="c u751f">生</span><span class="c u6307">指</span><span class="c u6570">数</span></td><td class="n Y"><span class="d">15.25</span><b>%</b></td><td class="n"><span class="d">4.12</span><b>%</b></td><td class="n"><span class="d">11.56</span><b>%</b></td><td class="n b P"><i>-</i><span class="d">4.56</span><b>%</b></td><td class="n"><span class="d">27.77</span><b>%</b></td><td class="l"><span class="c u6052">恒</span><span class="c u751f">生</span><span class="c u6307">指</span><span class="c u6570">数</span></td><td class="n"><span class="d">17.18</span><b>%</b></td><td class="n"><span class="d">1.60</span><b>%</b></td><td></td></tr>
<tr><th></th><td class="l"><span class="c u4f01">企</span><span class="c u503a">债</span><span class="c u6307">指</span><span class="c u6570">数</span></td><td class="n"><span class="d">1.39</span><b>%</b></td><td class="n"><span class="d">1.39</span><b>%</b></td><td class="n L"><span class="d">1.14</span><b>%</b></td><td class="n"><span class="d">0.98</span><b>%</b></td><td class="n"><span class="d">4.99</span><b>%</b></td><td class="l"><span class="c u4f01">企</span><span class="c u503a">债</span><span class="c u6307">指</span><span class="c u6570">数</span></td><td class="n"><span class="d">0.82</span><b>%</b></td><td class="n P"><span class="d">0.97</span><b>%</b></td><td class="n P"><span class="d">0.64</span><b>%</b></td><td class="n"><span class="d">0.59</span><b>%</b></td><td class="n"><span class="d">3.05</span><b>%</b></td><td class="l"><span class="c u4f01">企</span><span class="c u503a">债</span><span class="c u6307">指</span><span class="c u6570">数</span></td><td class="n"><span class="d">53.63</span><b>%</b></td><td class="n"><span class="d">4.39</span><b>%</b></td><td></td></tr>
<tr><th></th><td class="l"><span class="c u8f6c">转</span><span class="c u503a">债</span><span class="c u7b49">等</span><span class="c u6743">权</span></td><td class="n b"><i>-</i><span class="d">4.23</span><b>%</b></td><td class="n b"><i>-</i><span class="d">0.97</span><b>%</b></td><td class="n"><span class="d">2.30</span><b>%</b></td><td class="n"><span class="d">7.50</span><b>%</b></td><td class="n b"><span class="d">4.30</span><b>%</b></td><td class="l"><span class="c u8f6c">转</span><span class="c u503a">债</span><span class="c u7b49">等</span><span class="c u6743">权</span></td><td class="n"><span class="d">4.35</span><b>%</b></td><td class="n"><span class="d">4.70</span><b>%</b></td><td class="n"><span class="d">11.57</span><b>%</b></td><td class="n"><span class="d">1.97</span><b>%</b></td><td class="n"><span class="d">24.30</span><b>%</b></td><td class="l"><span class="c u6caa">沪</span><span class="c u6df1">深</span><span class="d">300</span></td><td class="n"><span class="d">28.81</span><b>%</b></td><td class="n"><span class="d">2.56</span><b>%</b></td><td></td></tr>
<tr><th></th><td class="l"><span class="c u5341">十</span><span class="c u6307">指</span><span class="c u5e73">平</span><span class="c u5747">均</span></td><td class="n b T"><i>-</i><span class="d">3.37</span><b>%</b></td><td class="n b T"><i>-</i><span class="d">4.19</span><b>%</b></td><td class="n T"><span class="d">14.59</span><b>%</b></td><td class="n T"><span class="d">1.84</span><b>%</b></td><td class="n b"><span class="d">8.03</span><b>%</b></td><td class="l"><span class="c u5341">十</span><span class="c u6307">指</span><span class="c u5e73">平</span><span class="c u5747">均</span></td><td class="n T"><span class="d">3.84</span><b>%</b></td><td class="n T"><span class="d">3.48</span><b>%</b></td><td class="n T"><span class="d">15.69</span><b>%</b></td><td class="n T"><span class="d">0.59</span><b>%</b></td><td class="n"><span class="d">25.04</span><b>%</b></td><td class="l"><span class="c u5341">十</span><span class="c u6307">指</span><span class="c u5e73">平</span><span class="c u5747">均</span></td><td class="n"><span class="d">15.91</span><b>%</b></td><td class="n"><span class="d">1.49</span><b>%</b></td><td></td></tr>
<tr><th></th><td></td><td></td><td></td><td></td><td></td><td></td><td></td><td></td><td></td><td></td><td></td><td></td><td></td><td></td><td></td><td></td></tr>
</tbody></table>
<div id="selbg"></div><div id="sel"></div>
</div>
</body></html>
